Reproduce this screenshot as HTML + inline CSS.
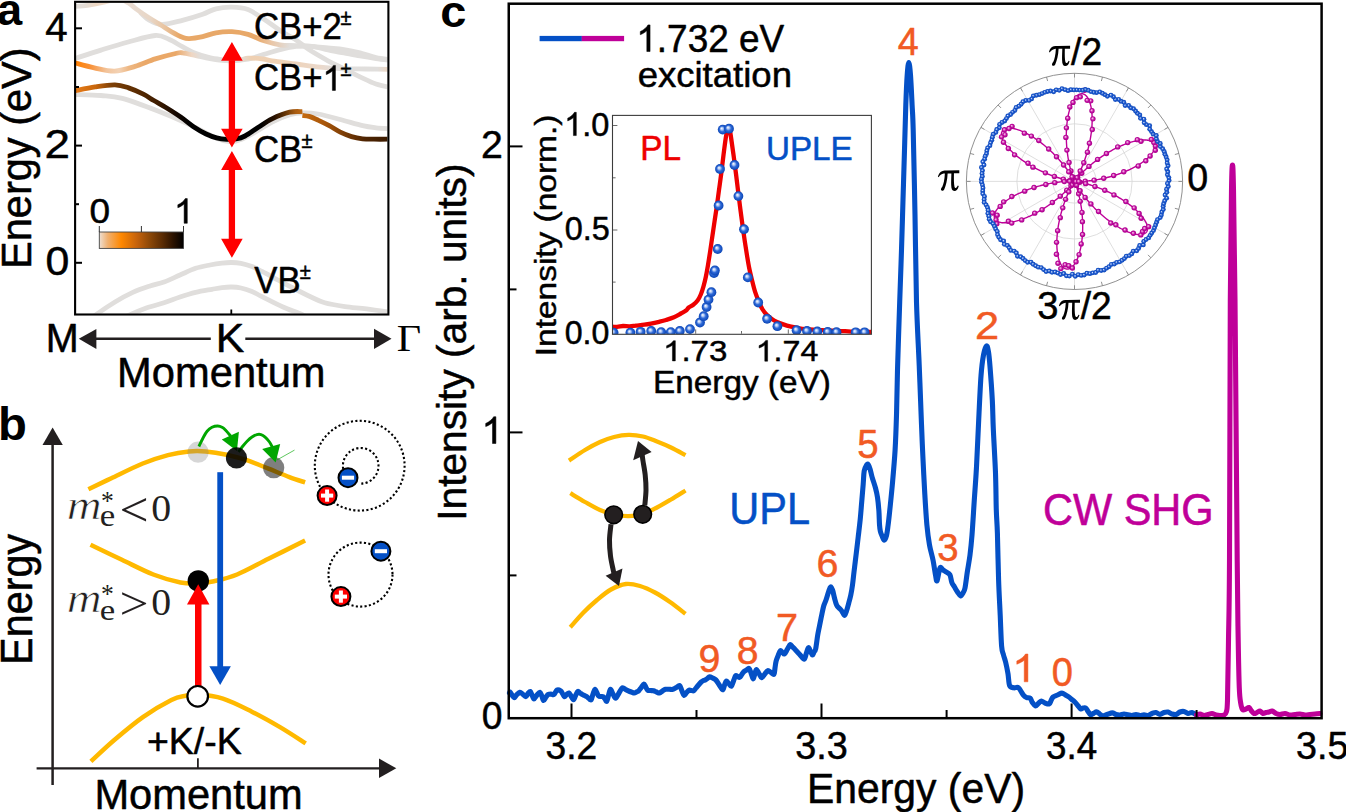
<!DOCTYPE html>
<html><head><meta charset="utf-8"><title>figure</title><style>html,body{margin:0;padding:0;background:#fff;overflow:hidden;}svg{display:block;}text{font-kerning:none;}</style></head><body>
<svg width="1346" height="812" viewBox="0 0 1346 812">
<defs><clipPath id="clipA"><rect x="76" y="2.8" width="311.4" height="310.8"/></clipPath>
<linearGradient id="gA" gradientUnits="userSpaceOnUse" x1="74" y1="0" x2="112" y2="0"><stop offset="0" stop-color="#e2dfdc"/><stop offset="0.32" stop-color="#e4dcd4"/><stop offset="0.58" stop-color="#eed8c4"/><stop offset="1" stop-color="#eeddcf"/></linearGradient>
<linearGradient id="gB" gradientUnits="userSpaceOnUse" x1="120" y1="0" x2="290" y2="0"><stop offset="0" stop-color="#e9ded6"/><stop offset="0.18" stop-color="#e8d6c6"/><stop offset="0.27" stop-color="#e9c29c"/><stop offset="0.35" stop-color="#e8a868"/><stop offset="0.8" stop-color="#e8a868"/><stop offset="0.89" stop-color="#eac6a6"/><stop offset="1" stop-color="#e0dedc"/></linearGradient>
<linearGradient id="gE" gradientUnits="userSpaceOnUse" x1="75" y1="0" x2="390" y2="0"><stop offset="0" stop-color="#ff7f00"/><stop offset="0.05" stop-color="#f8923a"/><stop offset="0.1" stop-color="#f2c49c"/><stop offset="0.14" stop-color="#f3d2b4"/><stop offset="0.17" stop-color="#eeb884"/><stop offset="0.22" stop-color="#eaa868"/><stop offset="0.32" stop-color="#eaa868"/><stop offset="0.37" stop-color="#efd6c2"/><stop offset="0.4" stop-color="#e0dedc"/><stop offset="0.52" stop-color="#e0dedc"/><stop offset="0.56" stop-color="#efd0b2"/><stop offset="0.68" stop-color="#eed2b8"/><stop offset="0.78" stop-color="#ebd9cb"/><stop offset="0.83" stop-color="#e0dedc"/><stop offset="0.96" stop-color="#e0dedc"/><stop offset="1" stop-color="#efd6c0"/></linearGradient>
<linearGradient id="gF" gradientUnits="userSpaceOnUse" x1="75" y1="0" x2="302" y2="0"><stop offset="0" stop-color="#e87c18"/><stop offset="0.09" stop-color="#c8660c"/><stop offset="0.16" stop-color="#7e4006"/><stop offset="0.26" stop-color="#5e2e02"/><stop offset="0.37" stop-color="#3c1b00"/><stop offset="0.45" stop-color="#120600"/><stop offset="0.51" stop-color="#000"/><stop offset="0.82" stop-color="#000"/><stop offset="0.88" stop-color="#2a1200"/><stop offset="0.93" stop-color="#6a3806"/><stop offset="0.97" stop-color="#a85c12"/><stop offset="1" stop-color="#bc6814"/></linearGradient>
<linearGradient id="gF2" gradientUnits="userSpaceOnUse" x1="303" y1="0" x2="390" y2="0"><stop offset="0" stop-color="#c46a10"/><stop offset="0.25" stop-color="#a8560a"/><stop offset="0.48" stop-color="#7a3c06"/><stop offset="0.71" stop-color="#4e2402"/><stop offset="1" stop-color="#3a1a00"/></linearGradient>
<linearGradient id="gCB" x1="0" y1="0" x2="1" y2="0"><stop offset="0" stop-color="#eedfd2"/><stop offset="0.1" stop-color="#f0b070"/><stop offset="0.26" stop-color="#ff8800"/><stop offset="0.45" stop-color="#c4620c"/><stop offset="0.6" stop-color="#8c4808"/><stop offset="0.75" stop-color="#5a2c04"/><stop offset="0.88" stop-color="#2a1200"/><stop offset="1" stop-color="#000"/></linearGradient>
<radialGradient id="sphB" cx="0.5" cy="0.5" r="0.5" fx="0.38" fy="0.36"><stop offset="0" stop-color="#ffffff"/><stop offset="0.28" stop-color="#a9c3f2"/><stop offset="0.55" stop-color="#2f6ad8"/><stop offset="1" stop-color="#0a44b4"/></radialGradient>
<radialGradient id="sphB2" cx="0.5" cy="0.5" r="0.5" fx="0.42" fy="0.4"><stop offset="0" stop-color="#eef4ff"/><stop offset="0.22" stop-color="#8eaeea"/><stop offset="0.48" stop-color="#2660d4"/><stop offset="1" stop-color="#0743b6"/></radialGradient>
<radialGradient id="sphM" cx="0.5" cy="0.5" r="0.5" fx="0.4" fy="0.38"><stop offset="0" stop-color="#ffd8f4"/><stop offset="0.3" stop-color="#e070c8"/><stop offset="0.6" stop-color="#c00ca0"/><stop offset="1" stop-color="#a8008a"/></radialGradient>
<clipPath id="clipI"><rect x="612.5" y="115.4" width="258.9" height="218.9"/></clipPath></defs>
<rect width="1346" height="812" fill="#fff"/>
<g clip-path="url(#clipA)" fill="none" stroke-width="4.8" stroke-linecap="butt" stroke-linejoin="round">
<path d="M140,12 C141.42,13.27 144.83,17.53 148.5,19.6 C152.17,21.67 156.35,24.28 162,24.4 C167.65,24.52 175.62,22 182.4,20.3 C189.18,18.6 197.1,16.12 202.7,14.2 C208.3,12.28 211.12,9.97 216,8.8 C220.88,7.63 226.67,7.07 232,7.2 C237.33,7.33 242.67,7.6 248,9.6 C253.33,11.6 258.67,15.73 264,19.2 C269.33,22.67 274.67,26.93 280,30.4 C285.33,33.87 291.18,36.8 296,40 C300.82,43.2 303.57,46.13 308.9,49.6 C314.23,53.07 322.15,57.6 328,60.8 C333.85,64 338.67,66.13 344,68.8 C349.33,71.47 354.67,74.27 360,76.8 C365.33,79.33 370.67,82.17 376,84 C381.33,85.83 389.33,87.17 392,87.8" stroke="#e0dedc"/>
<path d="M74,58.8 C78.5,57.35 91.97,52.9 101,50.1 C110.03,47.3 119.15,44.43 128.2,42 C137.25,39.57 148.52,35.95 155.3,35.5 C162.08,35.05 164.38,37.43 168.9,39.3 C173.42,41.17 177.88,44.33 182.4,46.7 C186.92,49.07 191.48,51.68 196,53.5 C200.52,55.32 205,56.55 209.5,57.6 C214,58.65 219.25,59.27 223,59.8 C226.75,60.33 227.83,60.9 232,60.8 C236.17,60.7 242.67,60.27 248,59.2 C253.33,58.13 258.67,56 264,54.4 C269.33,52.8 274.67,50.93 280,49.6 C285.33,48.27 290.67,46.93 296,46.4 C301.33,45.87 306.67,45.8 312,46.4 C317.33,47 322.67,48.9 328,50 C333.33,51.1 338.67,52 344,53 C349.33,54 354.67,55.08 360,56 C365.33,56.92 370.67,57.75 376,58.5 C381.33,59.25 389.33,60.17 392,60.5" stroke="#e0dedc"/>
<path d="M74,94.5 C78.5,94.67 92.95,94.85 101,95.5 C109.05,96.15 112.82,95.82 122.3,98.4 C131.78,100.98 147.07,106.82 157.9,111 C168.73,115.18 177.52,118.97 187.3,123.5 C197.08,128.03 209.32,135.15 216.6,138.2 C223.88,141.25 226.93,141.58 231,141.8 C235.07,142.02 236.5,141.38 241,139.5 C245.5,137.62 252.83,133.42 258,130.5 C263.17,127.58 266.67,124.62 272,122 C277.33,119.38 284.93,116.32 290,114.8 C295.07,113.28 297.73,113.03 302.4,112.9 C307.07,112.77 311.68,112.9 318,114 C324.32,115.1 332.87,117.55 340.3,119.5 C347.73,121.45 356.65,124.32 362.6,125.7 C368.55,127.08 371.1,127.28 376,127.8 C380.9,128.32 389.33,128.63 392,128.8" stroke="#e0dedc"/>
<path d="M72,333 C75.83,330.07 87.83,320.57 95,315.4 C102.17,310.23 108.7,305.83 115,302 C121.3,298.17 126.97,295.07 132.8,292.4 C138.63,289.73 144.8,287.73 150,286 C155.2,284.27 159,283.83 164,282 C169,280.17 174.73,277.28 180,275 C185.27,272.72 190.6,269.97 195.6,268.3 C200.6,266.63 205.6,265.87 210,265 C214.4,264.13 218.42,263.52 222,263.1 C225.58,262.68 228.33,262.45 231.5,262.5 C234.67,262.55 237.58,262.72 241,263.4 C244.42,264.08 248.5,265.27 252,266.6 C255.5,267.93 257.67,269.17 262,271.4 C266.33,273.63 272.83,277.23 278,280 C283.17,282.77 287.67,285.25 293,288 C298.33,290.75 304.72,294.03 310,296.5 C315.28,298.97 318.87,301.12 324.7,302.8 C330.53,304.48 338.02,305.58 345,306.6 C351.98,307.62 358.77,307.9 366.6,308.9 C374.43,309.9 387.77,311.98 392,312.6" stroke="#e0dedc"/>
<path d="M112,324 C114.77,322.57 123.1,317.98 128.6,315.4 C134.1,312.82 139.1,310.6 145,308.5 C150.9,306.4 158.17,304.72 164,302.8 C169.83,300.88 174.73,298.73 180,297 C185.27,295.27 190.27,293.68 195.6,292.4 C200.93,291.12 207.6,290.1 212,289.3 C216.4,288.5 218.75,287.98 222,287.6 C225.25,287.22 228.33,286.93 231.5,287 C234.67,287.07 237.58,287.25 241,288 C244.42,288.75 248.5,290.07 252,291.5 C255.5,292.93 256.83,294.02 262,296.6 C267.17,299.18 276.05,303.87 283,307 C289.95,310.13 297.87,312.57 303.7,315.4 C309.53,318.23 315.62,322.57 318,324" stroke="#e0dedc"/>
<path d="M73,6.5 C75.42,6.32 82.17,6.15 87.5,5.4 C92.83,4.65 100.42,3.07 105,2 C109.58,0.93 113.33,-0.5 115,-1" stroke="url(#gA)"/>
<path d="M121,-1 C122.5,-0.17 127.67,2.48 130,4 C132.33,5.52 131.92,5.83 135,8.1 C138.08,10.37 144.22,14.78 148.5,17.6 C152.78,20.42 156.85,22.63 160.7,25 C164.55,27.37 167.98,29.75 171.6,31.8 C175.22,33.85 179.47,36.17 182.4,37.3 C185.33,38.43 185.82,38.72 189.2,38.6 C192.58,38.48 198.23,37.57 202.7,36.6 C207.17,35.63 211.12,33.62 216,32.8 C220.88,31.98 226.67,31.43 232,31.7 C237.33,31.97 242.67,32.88 248,34.4 C253.33,35.92 258.67,39.07 264,40.8 C269.33,42.53 274.67,44 280,44.8 C285.33,45.6 290.67,45.33 296,45.6 C301.33,45.87 306.67,46 312,46.4 C317.33,46.8 322.67,47.47 328,48 C333.33,48.53 338.67,48.8 344,49.6 C349.33,50.4 354.67,51.47 360,52.8 C365.33,54.13 370.67,56.4 376,57.6 C381.33,58.8 389.33,59.6 392,60" stroke="url(#gB)"/>
<path d="M74,62.6 C77.38,63.47 87.52,66.38 94.3,67.8 C101.08,69.22 107.92,71.33 114.7,71.1 C121.48,70.87 128.23,68.43 135,66.4 C141.77,64.37 148.53,61.05 155.3,58.9 C162.07,56.75 171.08,54.52 175.6,53.5 C180.12,52.48 179,52.45 182.4,52.8 C185.8,53.15 191.4,54.63 196,55.6 C200.6,56.57 205.17,57.77 210,58.6 C214.83,59.43 220,60.4 225,60.6 C230,60.8 236.17,60.2 240,59.8 C243.83,59.4 244.33,58.37 248,58.2 C251.67,58.03 258,58.37 262,58.8 C266,59.23 266.33,59.93 272,60.8 C277.67,61.67 288,62.93 296,64 C304,65.07 312,66.4 320,67.2 C328,68 336.33,68.5 344,68.8 C351.67,69.1 358,68.88 366,69 C374,69.12 387.67,69.42 392,69.5" stroke="url(#gE)"/>
<path d="M74,91 C77.52,90.32 88.27,87.93 95.1,86.9 C101.93,85.87 109.42,84.63 115,84.8 C120.58,84.97 123.88,86.33 128.6,87.9 C133.32,89.47 139.1,92.1 143.3,94.2 C147.5,96.3 149.97,98.23 153.8,100.5 C157.63,102.77 161.77,105 166.3,107.8 C170.83,110.6 176.47,114.15 181,117.3 C185.53,120.45 189.32,123.92 193.5,126.7 C197.68,129.48 202.25,132.15 206.1,134 C209.95,135.85 213.12,136.92 216.6,137.8 C220.08,138.68 223.77,139.1 227,139.3 C230.23,139.5 233,139.55 236,139 C239,138.45 241.33,137.92 245,136 C248.67,134.08 253.5,130.37 258,127.5 C262.5,124.63 266.73,121.35 272,118.8 C277.27,116.25 284.53,113.4 289.6,112.2 C294.67,111 300.27,111.7 302.4,111.6" stroke="url(#gF)"/>
<path d="M302.4,115.4 C303.52,115.57 306.5,115.62 309.1,116.4 C311.7,117.18 314.65,118.55 318,120.1 C321.35,121.65 325.48,123.68 329.2,125.7 C332.92,127.72 336.58,130.38 340.3,132.2 C344.02,134.02 347.78,135.5 351.5,136.6 C355.22,137.7 358.85,138.37 362.6,138.8 C366.35,139.23 369.1,139.13 374,139.2 C378.9,139.27 389,139.2 392,139.2" stroke="url(#gF2)"/>
</g>
<rect x="75.1" y="1.8" width="313.3" height="312.7" fill="none" stroke="#000" stroke-width="2.1"/>
<line x1="76" y1="28.3" x2="82" y2="28.3" stroke="#000" stroke-width="2"/>
<line x1="76" y1="87" x2="79" y2="87" stroke="#000" stroke-width="2"/>
<line x1="76" y1="145.6" x2="82" y2="145.6" stroke="#000" stroke-width="2"/>
<line x1="76" y1="204.2" x2="79" y2="204.2" stroke="#000" stroke-width="2"/>
<line x1="76" y1="262.8" x2="82" y2="262.8" stroke="#000" stroke-width="2"/>
<line x1="231.3" y1="309.5" x2="231.3" y2="314" stroke="#000" stroke-width="1.8"/>
<path d="M231.9,41.9 L221.1,60.7 L242.7,60.7 Z M231.9,147.6 L221.1,128.8 L242.7,128.8 Z" fill="#ff0000"/><rect x="228.75" y="60.2" width="6.3" height="69.1" fill="#ff0000"/>
<path d="M231.9,151 L221.1,170 L242.7,170 Z M231.9,257.8 L221.1,238.8 L242.7,238.8 Z" fill="#ff0000"/><rect x="228.75" y="169.5" width="6.3" height="69.8" fill="#ff0000"/>
<rect x="99.3" y="232" width="84.2" height="16.4" fill="url(#gCB)" stroke="#444" stroke-width="0.9"/>
<line x1="99.3" y1="226" x2="99.3" y2="232" stroke="#333" stroke-width="1"/>
<line x1="141.4" y1="226" x2="141.4" y2="232" stroke="#333" stroke-width="1"/>
<line x1="183.5" y1="226" x2="183.5" y2="232" stroke="#333" stroke-width="1"/>
<g transform="translate(89.55,222.96) scale(1,0.9422)"><text x="0" y="0" font-family='"Liberation Sans", sans-serif' font-size="37.03" fill="#000" stroke="#000" stroke-width="0.5" stroke-linejoin="round">0</text></g>
<g transform="translate(173.92,223.3) scale(1,1.0000)"><path transform="translate(0,0) scale(0.01753,-0.01753)" d="M763,0 L583,0 L583,1097 C540,1058 483,1019 412,979 C341,939 278,909 222,890 L222,1056 C323,1101 410,1156 486,1221 C561,1285 615,1348 646,1409 L763,1409 Z" fill="#000" stroke="#000" stroke-width="28.52" stroke-linejoin="round"/></g>
<g transform="translate(-3.09,24.76) scale(1,1.0000)"><text x="0" y="0" font-family='"Liberation Sans", sans-serif' font-size="45.27" font-weight="bold" fill="#000">a</text></g>
<g transform="translate(45.28,40.6) scale(1,1.0319)"><text x="0" y="0" font-family='"Liberation Sans", sans-serif' font-size="40.29" fill="#000" stroke="#000" stroke-width="0.5" stroke-linejoin="round">4</text></g>
<g transform="translate(44.49,157.7) scale(1,0.8835)"><text x="0" y="0" font-family='"Liberation Sans", sans-serif' font-size="45.88" fill="#000" stroke="#000" stroke-width="0.5" stroke-linejoin="round">2</text></g>
<g transform="translate(45.52,274.59) scale(1,0.9683)"><text x="0" y="0" font-family='"Liberation Sans", sans-serif' font-size="42.88" fill="#000" stroke="#000" stroke-width="0.5" stroke-linejoin="round">0</text></g>
<g transform="translate(31.44,269.01) rotate(-90) scale(1,1.0044)"><text x="0" y="0" font-family='"Liberation Sans", sans-serif' font-size="41.55" fill="#000" stroke="#000" stroke-width="0.5" stroke-linejoin="round">Energy (eV)</text></g>
<g transform="translate(254.04,38.5) scale(1,1.0514)"><text x="0" y="0" font-family='"Liberation Sans", sans-serif' font-size="34.7" fill="#000" stroke="#000" stroke-width="0.5" stroke-linejoin="round">CB+2</text></g>
<g transform="translate(340.57,24.7) scale(1,1.0771)"><text x="0" y="0" font-family='"Liberation Sans", sans-serif' font-size="19.97" fill="#000" stroke="#000" stroke-width="0.5" stroke-linejoin="round">±</text></g>
<g transform="translate(254.04,90.4) scale(1,1.0472)"><text x="0" y="0" font-family='"Liberation Sans", sans-serif' font-size="34.7" fill="#000" stroke="#000" stroke-width="0.5" stroke-linejoin="round">CB+</text><path transform="translate(68.47,0) scale(0.01694,-0.01694)" d="M763,0 L583,0 L583,1097 C540,1058 483,1019 412,979 C341,939 278,909 222,890 L222,1056 C323,1101 410,1156 486,1221 C561,1285 615,1348 646,1409 L763,1409 Z" fill="#000" stroke="#000" stroke-width="29.51" stroke-linejoin="round"/></g>
<g transform="translate(340.57,76) scale(1,1.0266)"><text x="0" y="0" font-family='"Liberation Sans", sans-serif' font-size="19.97" fill="#000" stroke="#000" stroke-width="0.5" stroke-linejoin="round">±</text></g>
<g transform="translate(253.94,162.2) scale(1,1.0556)"><text x="0" y="0" font-family='"Liberation Sans", sans-serif' font-size="34.7" fill="#000" stroke="#000" stroke-width="0.5" stroke-linejoin="round">CB</text></g>
<g transform="translate(301.56,147.9) scale(1,1.0578)"><text x="0" y="0" font-family='"Liberation Sans", sans-serif' font-size="20.17" fill="#000" stroke="#000" stroke-width="0.5" stroke-linejoin="round">±</text></g>
<g transform="translate(254.35,292.8) scale(1,1.0556)"><text x="0" y="0" font-family='"Liberation Sans", sans-serif' font-size="34.7" fill="#000" stroke="#000" stroke-width="0.5" stroke-linejoin="round">VB</text></g>
<g transform="translate(299.76,278.7) scale(1,1.0578)"><text x="0" y="0" font-family='"Liberation Sans", sans-serif' font-size="20.17" fill="#000" stroke="#000" stroke-width="0.5" stroke-linejoin="round">±</text></g>
<g transform="translate(45.75,352) scale(1,1.0090)"><text x="0" y="0" font-family='"Liberation Sans", sans-serif' font-size="39.61" fill="#000" stroke="#000" stroke-width="0.5" stroke-linejoin="round">M</text></g>
<g transform="translate(215.7,352.4) scale(1,0.9531)"><text x="0" y="0" font-family='"Liberation Sans", sans-serif' font-size="42.7" fill="#000" stroke="#000" stroke-width="0.5" stroke-linejoin="round">K</text></g>
<g transform="translate(396.69,350.5) scale(1,0.9165)"><text x="0" y="0" font-family='"Liberation Serif", serif' font-size="42.16" fill="#000">Γ</text></g>
<g transform="translate(117.08,386.98) scale(1,1.0345)"><text x="0" y="0" font-family='"Liberation Sans", sans-serif' font-size="41.7" fill="#000" stroke="#000" stroke-width="0.5" stroke-linejoin="round">Momentum</text></g>
<line x1="95" y1="338.7" x2="210.8" y2="338.7" stroke="#231f20" stroke-width="2.5"/>
<path d="M78.8,338.8 L96.4,329 L96.4,348.9 Z" fill="#231f20"/>
<line x1="245.3" y1="338.7" x2="375" y2="338.7" stroke="#231f20" stroke-width="2.5"/>
<path d="M391.5,338.8 L374,328.8 L374,348.9 Z" fill="#231f20"/>
<g transform="translate(-2.01,439.55) scale(1,0.9745)"><text x="0" y="0" font-family='"Liberation Sans", sans-serif' font-size="47.23" font-weight="bold" fill="#000">b</text></g>
<line x1="52.6" y1="443" x2="52.6" y2="785" stroke="#231f20" stroke-width="2.5"/>
<path d="M52.6,427.4 L42.5,444.9 L62.8,444.9 Z" fill="#231f20"/>
<line x1="36.6" y1="768.3" x2="381" y2="768.3" stroke="#231f20" stroke-width="2.3"/>
<path d="M396.3,768.3 L379,758.6 L379,777.9 Z" fill="#231f20"/>
<line x1="197.9" y1="758.3" x2="197.9" y2="768" stroke="#231f20" stroke-width="1.8"/>
<g transform="translate(32.36,664.9) rotate(-90) scale(1,1.0519)"><text x="0" y="0" font-family='"Liberation Sans", sans-serif' font-size="41.4" fill="#000" stroke="#000" stroke-width="0.5" stroke-linejoin="round">Energy</text></g>
<g transform="translate(94.38,808.59) scale(1,1.0114)"><text x="0" y="0" font-family='"Liberation Sans", sans-serif' font-size="41.66" fill="#000" stroke="#000" stroke-width="0.5" stroke-linejoin="round">Momentum</text></g>
<g transform="translate(146.97,754.24) scale(1,0.9932)"><text x="0" y="0" font-family='"Liberation Sans", sans-serif' font-size="37.43" fill="#000" stroke="#000" stroke-width="0.5" stroke-linejoin="round">+K/-K</text></g>
<g transform="translate(66.75,519) scale(1,0.8411)"><text x="0" y="0" font-family='"Liberation Serif", serif' font-size="48.44" font-style="italic" fill="#231f20" stroke="#fff" stroke-width="0.8" stroke-linejoin="round">m</text></g>
<g transform="translate(99.84,526.2) scale(1,0.8769)"><text x="0" y="0" font-family='"Liberation Serif", serif' font-size="34.85" fill="#231f20">e</text></g>
<g transform="translate(101.05,509.69) scale(1,1.0999)"><text x="0" y="0" font-family='"Liberation Serif", serif' font-size="25.54" fill="#231f20">*</text></g>
<g transform="translate(119.43,525.95) scale(1,0.9284)"><text x="0" y="0" font-family='"Liberation Serif", serif' font-size="51.58" fill="#231f20">&lt;</text></g>
<g transform="translate(151.18,521.22) scale(1,0.9774)"><text x="0" y="0" font-family='"Liberation Serif", serif' font-size="39.87" fill="#231f20">0</text></g>
<g transform="translate(66.75,612.2) scale(1,0.8411)"><text x="0" y="0" font-family='"Liberation Serif", serif' font-size="48.44" font-style="italic" fill="#231f20" stroke="#fff" stroke-width="0.8" stroke-linejoin="round">m</text></g>
<g transform="translate(99.84,619.6) scale(1,0.8710)"><text x="0" y="0" font-family='"Liberation Serif", serif' font-size="34.85" fill="#231f20">e</text></g>
<g transform="translate(101.05,603.21) scale(1,1.0892)"><text x="0" y="0" font-family='"Liberation Serif", serif' font-size="25.54" fill="#231f20">*</text></g>
<g transform="translate(119.38,619.19) scale(1,0.9163)"><text x="0" y="0" font-family='"Liberation Serif", serif' font-size="51.58" fill="#231f20">&gt;</text></g>
<g transform="translate(151.18,614.53) scale(1,0.9626)"><text x="0" y="0" font-family='"Liberation Serif", serif' font-size="39.87" fill="#231f20">0</text></g>
<g fill="none" stroke="#ffb900" stroke-width="4.5">
<path d="M88.4,489.3 C92.23,487.45 102.33,482.5 111.4,478.2 C120.47,473.9 133.37,467.35 142.8,463.5 C152.23,459.65 160.32,457.12 168,455.1 C175.68,453.08 182.62,452.02 188.9,451.4 C195.18,450.78 199.42,450.85 205.7,451.4 C211.98,451.95 219.63,453.2 226.6,454.7 C233.57,456.2 240.52,458.07 247.5,460.4 C254.48,462.73 261.52,465.92 268.5,468.7 C275.48,471.48 283.3,474.82 289.4,477.1 C295.5,479.38 302.48,481.52 305.1,482.4"/>
<path d="M90.5,544.8 C95.73,547.3 111.43,554.85 121.9,559.8 C132.37,564.75 143.53,570.72 153.3,574.5 C163.07,578.28 173.17,581 180.5,582.5 C187.83,584 191.72,583.72 197.3,583.5 C202.88,583.28 207.37,582.7 214,581.2 C220.63,579.7 228.02,578.23 237.1,574.5 C246.18,570.77 257.17,564.45 268.5,558.8 C279.83,553.15 299,543.63 305.1,540.6"/>
<path d="M90.9,761.4 C94.8,757.83 105.63,747.38 114.3,740 C122.97,732.62 133.38,723.77 142.9,717.1 C152.42,710.43 164.27,703.57 171.4,700 C178.53,696.43 181.32,696.65 185.7,695.7 C190.08,694.75 191.5,693.82 197.7,694.3 C203.9,694.78 213.95,695.75 222.9,698.6 C231.85,701.45 241.88,706.65 251.4,711.4 C260.92,716.15 270.95,721.77 280,727.1 C289.05,732.43 301.42,740.68 305.7,743.4"/>
</g>
<circle cx="198.1" cy="452.2" r="10.6" fill="#808080" fill-opacity="0.32"/>
<circle cx="273.7" cy="467.7" r="10.6" fill="#000" fill-opacity="0.5"/>
<g fill="none" stroke="#00a600" stroke-width="2.9" stroke-linecap="butt">
<path d="M198.9,446.5 C199.58,445.08 201.63,440.53 203,438 C204.37,435.47 205.6,433.08 207.1,431.3 C208.6,429.52 210.23,428.18 212,427.3 C213.77,426.42 215.95,425.97 217.7,426 C219.45,426.03 221.13,426.75 222.5,427.5 C223.87,428.25 224.52,429.05 225.9,430.5 C227.28,431.95 229.98,435.25 230.8,436.2"/>
<path d="M238.5,451.8 C239.17,450.92 241.07,448.27 242.5,446.5 C243.93,444.73 245.52,442.78 247.1,441.2 C248.68,439.62 250.37,438.1 252,437 C253.63,435.9 255.4,435 256.9,434.6 C258.4,434.2 259.63,434.18 261,434.6 C262.37,435.02 263.68,435.87 265.1,437.1 C266.52,438.33 268.27,440.27 269.5,442 C270.73,443.73 272,446.58 272.5,447.5"/>
</g>
<path d="M221.8,439.5 L238.9,431.8 L236.9,451 Z" fill="#00a600"/>
<path d="M262.2,448.9 L280.2,444 L275.7,462.4 Z" fill="#00a600"/>
<path d="M276.9,460 L294.5,450.1" stroke="#00a600" stroke-width="0.9" stroke-opacity="0.7"/>
<circle cx="236.5" cy="457.9" r="10.6" fill="#000" fill-opacity="0.89"/>
<circle cx="198.3" cy="580.9" r="10.7" fill="#000"/>
<rect x="195" y="602" width="6.5" height="84" fill="#ff0000"/>
<path d="M198.2,584.3 L187,604.5 L209.4,604.5 Z" fill="#ff0000"/>
<rect x="217.3" y="472.2" width="5.8" height="195" fill="#0450c6"/>
<path d="M220.15,685.1 L209.4,666.3 L230.9,666.3 Z" fill="#0450c6"/>
<circle cx="197.7" cy="696.3" r="10.3" fill="#fff" stroke="#000" stroke-width="2.2"/>
<circle cx="359.7" cy="465.7" r="44.9" fill="none" stroke="#000" stroke-width="2.1" stroke-dasharray="2.1 2.3"/>
<path d="M361.32,483.59 A17.8,17.8 0 1 0 349.26,479.44" fill="none" stroke="#000" stroke-width="2.1" stroke-dasharray="2.1 2.3"/>
<circle cx="348" cy="477.7" r="9.5" fill="#0450c6" stroke="#000" stroke-width="2"/><rect x="341.9" y="475.7" width="12.2" height="4" fill="#fff"/>
<circle cx="327.1" cy="495.6" r="9.5" fill="#ff0000" stroke="#000" stroke-width="2"/><rect x="321" y="493.6" width="12.2" height="4" fill="#fff"/><rect x="325.1" y="489.5" width="4" height="12.2" fill="#fff"/>
<circle cx="360.5" cy="574.6" r="32" fill="none" stroke="#000" stroke-width="2.1" stroke-dasharray="2.1 2.3"/>
<circle cx="380.9" cy="551.2" r="9.5" fill="#0450c6" stroke="#000" stroke-width="2"/><rect x="374.8" y="549.2" width="12.2" height="4" fill="#fff"/>
<circle cx="340.9" cy="596.6" r="9.5" fill="#ff0000" stroke="#000" stroke-width="2"/><rect x="334.8" y="594.6" width="12.2" height="4" fill="#fff"/><rect x="338.9" y="590.5" width="4" height="12.2" fill="#fff"/>
<g transform="translate(440.27,27.36) scale(1,0.9642)"><text x="0" y="0" font-family='"Liberation Sans", sans-serif' font-size="46.95" font-weight="bold" fill="#000">c</text></g>
<path d="M509.5,693 C509.62,692.88 509.47,691.55 510.2,692.3 C510.93,693.05 512.85,697.05 513.9,697.5 C514.95,697.95 515.5,695.87 516.5,695 C517.5,694.13 518.9,692.47 519.9,692.3 C520.9,692.13 521.52,693.27 522.5,694 C523.48,694.73 524.88,696.78 525.8,696.7 C526.72,696.62 527.25,694.37 528,693.5 C528.75,692.63 529.63,691.25 530.3,691.5 C530.97,691.75 531.38,693.75 532,695 C532.62,696.25 533.17,699 534,699 C534.83,699 536.02,696.12 537,695 C537.98,693.88 539.1,692.13 539.9,692.3 C540.7,692.47 541.18,694.63 541.8,696 C542.42,697.37 542.9,700.33 543.6,700.5 C544.3,700.67 545.25,698 546,697 C546.75,696 547.27,695 548.1,694.5 C548.93,694 550.02,694 551,694 C551.98,694 553,695.17 554,694.5 C555,693.83 555.88,690.62 557,690 C558.12,689.38 559.78,690.22 560.7,690.8 C561.62,691.38 561.88,692.52 562.5,693.5 C563.12,694.48 563.7,696.53 564.4,696.7 C565.1,696.87 565.95,695.12 566.7,694.5 C567.45,693.88 568.18,692.75 568.9,693 C569.62,693.25 570.25,694.88 571,696 C571.75,697.12 572.63,699.78 573.4,699.7 C574.17,699.62 574.87,696.87 575.6,695.5 C576.33,694.13 577.07,691.92 577.8,691.5 C578.53,691.08 579.25,692.5 580,693 C580.75,693.5 581.55,694.08 582.3,694.5 C583.05,694.92 583.77,695.13 584.5,695.5 C585.23,695.87 585.95,696.2 586.7,696.7 C587.45,697.2 588.25,698 589,698.5 C589.75,699 590.53,700.45 591.2,699.7 C591.87,698.95 592.38,695.73 593,694 C593.62,692.27 594.27,689.55 594.9,689.3 C595.53,689.05 596.18,691.38 596.8,692.5 C597.42,693.62 597.9,695.33 598.6,696 C599.3,696.67 600.25,696.38 601,696.5 C601.75,696.62 602.43,696.28 603.1,696.7 C603.77,697.12 604.38,698.25 605,699 C605.62,699.75 606.2,701.87 606.8,701.2 C607.4,700.53 607.98,696.98 608.6,695 C609.22,693.02 609.77,689.47 610.5,689.3 C611.23,689.13 612.13,692.52 613,694 C613.87,695.48 614.7,698.37 615.7,698.2 C616.7,698.03 617.88,694.73 619,693 C620.12,691.27 621.32,688.38 622.4,687.8 C623.48,687.22 624.52,689 625.5,689.5 C626.48,690 627.33,690.38 628.3,690.8 C629.27,691.22 630.3,691.63 631.3,692 C632.3,692.37 633.43,693 634.3,693 C635.17,693 635.77,692.37 636.5,692 C637.23,691.63 637.9,691.55 638.7,690.8 C639.5,690.05 640.43,688.62 641.3,687.5 C642.17,686.38 643.15,684.18 643.9,684.1 C644.65,684.02 645.18,686 645.8,687 C646.42,688 646.8,689.52 647.6,690.1 C648.4,690.68 649.6,690.38 650.6,690.5 C651.6,690.62 652.62,690.55 653.6,690.8 C654.58,691.05 655.52,691.63 656.5,692 C657.48,692.37 658.5,693.17 659.5,693 C660.5,692.83 661.5,691.62 662.5,691 C663.5,690.38 664.38,689.58 665.5,689.3 C666.62,689.02 667.97,689.3 669.2,689.3 C670.43,689.3 671.72,689.6 672.9,689.3 C674.08,689 675.18,688.12 676.3,687.5 C677.42,686.88 678.68,685.1 679.6,685.6 C680.52,686.1 681.07,688.88 681.8,690.5 C682.53,692.12 683.2,694.97 684,695.3 C684.8,695.63 685.73,693.37 686.6,692.5 C687.47,691.63 688.38,690.43 689.2,690.1 C690.02,689.77 690.75,690.38 691.5,690.5 C692.25,690.62 692.95,691.22 693.7,690.8 C694.45,690.38 695.2,688.97 696,688 C696.8,687.03 697.63,686 698.5,685 C699.37,684 700.37,682.75 701.2,682 C702.03,681.25 702.8,680.85 703.5,680.5 C704.2,680.15 704.73,680.23 705.4,679.9 C706.07,679.57 706.8,679.02 707.5,678.5 C708.2,677.98 708.73,676.88 709.6,676.8 C710.47,676.72 711.67,677.48 712.7,678 C713.73,678.52 714.75,678.82 715.8,679.9 C716.85,680.98 717.87,682.85 719,684.5 C720.13,686.15 721.7,689.63 722.6,689.8 C723.5,689.97 723.8,686.97 724.4,685.5 C725,684.03 725.47,681.33 726.2,681 C726.93,680.67 727.93,682.63 728.8,683.5 C729.67,684.37 730.62,686.62 731.4,686.2 C732.18,685.78 732.8,682.73 733.5,681 C734.2,679.27 734.92,676.55 735.6,675.8 C736.28,675.05 736.92,676.25 737.6,676.5 C738.28,676.75 739,677.63 739.7,677.3 C740.4,676.97 741.1,675.45 741.8,674.5 C742.5,673.55 743.12,672.35 743.9,671.6 C744.68,670.85 745.63,670.52 746.5,670 C747.37,669.48 748.32,667.92 749.1,668.5 C749.88,669.08 750.52,671.77 751.2,673.5 C751.88,675.23 752.6,678.82 753.2,678.9 C753.8,678.98 754.27,675.57 754.8,674 C755.33,672.43 755.7,669.58 756.4,669.5 C757.1,669.42 758.13,672.12 759,673.5 C759.87,674.88 760.65,677.68 761.6,677.8 C762.55,677.92 763.67,675.4 764.7,674.2 C765.73,673 766.77,670.9 767.8,670.6 C768.83,670.3 769.87,671.8 770.9,672.4 C771.93,673 773.32,674.93 774,674.2 C774.68,673.47 774.65,670.17 775,668 C775.35,665.83 775.57,663.28 776.1,661.2 C776.63,659.12 777.5,657.23 778.2,655.5 C778.9,653.77 779.6,651.32 780.3,650.8 C781,650.28 781.7,651.88 782.4,652.4 C783.1,652.92 783.67,654.43 784.5,653.9 C785.33,653.37 786.45,650.75 787.4,649.2 C788.35,647.65 789.35,644.98 790.2,644.6 C791.05,644.22 791.72,646.13 792.5,646.9 C793.28,647.67 793.73,647.98 794.9,649.2 C796.07,650.42 797.95,652.55 799.5,654.2 C801.05,655.85 803.07,659.23 804.2,659.1 C805.33,658.97 805.6,655.3 806.3,653.4 C807,651.5 807.7,648.03 808.4,647.7 C809.1,647.37 809.82,650.18 810.5,651.4 C811.18,652.62 811.9,654.93 812.5,655 C813.1,655.07 813.57,652.85 814.1,651.8 C814.63,650.75 815.1,651.47 815.7,648.7 C816.3,645.93 817.07,638.98 817.7,635.2 C818.33,631.42 818.87,629.18 819.5,626 C820.13,622.82 820.8,619.43 821.5,616.1 C822.2,612.77 822.95,608.68 823.7,606 C824.45,603.32 825.2,602.33 826,600 C826.8,597.67 827.75,594.17 828.5,592 C829.25,589.83 829.83,587.33 830.5,587 C831.17,586.67 831.83,588.17 832.5,590 C833.17,591.83 833.82,595.5 834.5,598 C835.18,600.5 835.85,603.33 836.6,605 C837.35,606.67 838.27,607.17 839,608 C839.73,608.83 840.33,609.17 841,610 C841.67,610.83 842.38,612.1 843,613 C843.62,613.9 844.12,615.73 844.7,615.4 C845.28,615.07 845.87,612.9 846.5,611 C847.13,609.1 847.78,606.67 848.5,604 C849.22,601.33 850.13,598.17 850.8,595 C851.47,591.83 851.97,588.83 852.5,585 C853.03,581.17 853.37,577.33 854,572 C854.63,566.67 855.6,558.83 856.3,553 C857,547.17 857.55,542.57 858.2,537 C858.85,531.43 859.62,525.43 860.2,519.6 C860.78,513.77 861.2,507.92 861.7,502 C862.2,496.08 862.78,489.27 863.2,484.1 C863.62,478.93 863.65,474.15 864.2,471 C864.75,467.85 865.82,466.27 866.5,465.2 C867.18,464.13 867.68,463.88 868.3,464.6 C868.92,465.32 869.57,467.42 870.2,469.5 C870.83,471.58 871.22,474.02 872.1,477.1 C872.98,480.18 874.6,484.62 875.5,488 C876.4,491.38 876.93,493.57 877.5,497.4 C878.07,501.23 878.57,506.48 878.9,511 C879.23,515.52 879.25,521.08 879.5,524.5 C879.75,527.92 879.93,529.5 880.4,531.5 C880.87,533.5 881.65,535.07 882.3,536.5 C882.95,537.93 883.6,540.27 884.3,540.1 C885,539.93 885.88,537.85 886.5,535.5 C887.12,533.15 887.47,530.08 888,526 C888.53,521.92 888.97,518.02 889.7,511 C890.43,503.98 891.5,494.07 892.4,483.9 C893.3,473.73 894.42,461.48 895.1,450 C895.78,438.52 896.1,428.33 896.5,415 C896.9,401.67 896.97,388.83 897.5,370 C898.03,351.17 899.03,322 899.7,302 C900.37,282 900.95,267 901.5,250 C902.05,233 902.5,216.67 903,200 C903.5,183.33 904.03,165.83 904.5,150 C904.97,134.17 905.35,117.5 905.8,105 C906.25,92.5 906.7,82.08 907.2,75 C907.7,67.92 908.25,62.5 908.8,62.5 C909.35,62.5 909.95,67.92 910.5,75 C911.05,82.08 911.65,95.83 912.1,105 C912.55,114.17 912.72,111.67 913.2,130 C913.68,148.33 914.45,186.33 915,215 C915.55,243.67 915.8,277 916.5,302 C917.2,327 918.37,344.62 919.2,365 C920.03,385.38 920.9,409.3 921.5,424.3 C922.1,439.3 922.25,443.38 922.8,455 C923.35,466.62 924.12,482.33 924.8,494 C925.48,505.67 926.12,516.5 926.9,525 C927.68,533.5 928.48,539.17 929.5,545 C930.52,550.83 931.98,554.92 933,560 C934.02,565.08 934.92,572.05 935.6,575.5 C936.28,578.95 936.37,581.97 937.1,580.7 C937.83,579.43 939.02,569.68 940,567.9 C940.98,566.12 942,569.35 943,570 C944,570.65 944.85,571 946,571.8 C947.15,572.6 948.92,573 949.9,574.8 C950.88,576.6 951.13,580.57 951.9,582.6 C952.67,584.63 953.57,585.43 954.5,587 C955.43,588.57 956.48,590.5 957.5,592 C958.52,593.5 959.68,595.83 960.6,596 C961.52,596.17 962.27,594.33 963,593 C963.73,591.67 964.28,591.5 965,588 C965.72,584.5 966.47,577.5 967.3,572 C968.13,566.5 969.22,561.17 970,555 C970.78,548.83 971.28,544.17 972,535 C972.72,525.83 973.55,511.33 974.3,500 C975.05,488.67 975.77,480.33 976.5,467 C977.23,453.67 977.95,435.17 978.7,420 C979.45,404.83 980.2,386.83 981,376 C981.8,365.17 982.58,360 983.5,355 C984.42,350 985.67,346.5 986.5,346 C987.33,345.5 987.92,348.58 988.5,352 C989.08,355.42 989.37,358.5 990,366.5 C990.63,374.5 991.75,389.63 992.3,400 C992.85,410.37 992.77,416.53 993.3,428.7 C993.83,440.87 995,459.45 995.5,473 C996,486.55 995.98,500 996.3,510 C996.62,520 997.02,521.33 997.4,533 C997.78,544.67 998.13,566.33 998.6,580 C999.07,593.67 999.7,604 1000.2,615 C1000.7,626 1001.05,639.33 1001.6,646 C1002.15,652.67 1002.83,652.33 1003.5,655 C1004.17,657.67 1004.85,658.87 1005.6,662 C1006.35,665.13 1007.33,669.88 1008,673.8 C1008.67,677.72 1008.63,683.17 1009.6,685.5 C1010.57,687.83 1012.32,687.42 1013.8,687.8 C1015.28,688.18 1016.93,686.63 1018.5,687.8 C1020.07,688.97 1021.87,693.18 1023.2,694.8 C1024.53,696.42 1025.33,696.92 1026.5,697.5 C1027.67,698.08 1029.22,697.47 1030.2,698.3 C1031.18,699.13 1031.53,701.22 1032.4,702.5 C1033.27,703.78 1034.42,705.83 1035.4,706 C1036.38,706.17 1037.32,704.33 1038.3,703.5 C1039.28,702.67 1040.18,701.08 1041.3,701 C1042.42,700.92 1043.68,702.5 1045,703 C1046.32,703.5 1048.18,704.42 1049.2,704 C1050.22,703.58 1050.45,701.67 1051.1,700.5 C1051.75,699.33 1052.03,697.92 1053.1,697 C1054.17,696.08 1056.02,695.65 1057.5,695 C1058.98,694.35 1060.67,693.1 1062,693.1 C1063.33,693.1 1064.35,694.35 1065.5,695 C1066.65,695.65 1067.85,696.25 1068.9,697 C1069.95,697.75 1070.82,698.67 1071.8,699.5 C1072.78,700.33 1073.8,701 1074.8,702 C1075.8,703 1076.82,704.35 1077.8,705.5 C1078.78,706.65 1079.8,708.48 1080.7,708.9 C1081.6,709.32 1082.37,708.15 1083.2,708 C1084.03,707.85 1084.88,707.43 1085.7,708 C1086.52,708.57 1087.28,710.27 1088.1,711.4 C1088.92,712.53 1089.7,714.47 1090.6,714.8 C1091.5,715.13 1092.52,713.88 1093.5,713.4 C1094.48,712.92 1095.5,711.83 1096.5,711.9 C1097.5,711.97 1098.52,713.15 1099.5,713.8 C1100.48,714.45 1101.15,715.68 1102.4,715.8 C1103.65,715.92 1105.35,714.98 1107,714.5 C1108.65,714.02 1110.8,712.9 1112.3,712.9 C1113.8,712.9 1114.72,714.15 1116,714.5 C1117.28,714.85 1118.67,715.08 1120,715 C1121.33,714.92 1122.67,714.03 1124,714 C1125.33,713.97 1126.67,714.55 1128,714.8 C1129.33,715.05 1130.67,715.55 1132,715.5 C1133.33,715.45 1134.67,714.5 1136,714.5 C1137.33,714.5 1138.67,715.45 1140,715.5 C1141.33,715.55 1142.67,714.8 1144,714.8 C1145.33,714.8 1146.67,715.72 1148,715.5 C1149.33,715.28 1150.67,714 1152,713.5 C1153.33,713 1154.67,712.33 1156,712.5 C1157.33,712.67 1158.67,714.5 1160,714.5 C1161.33,714.5 1162.67,712.92 1164,712.5 C1165.33,712.08 1166.67,711.75 1168,712 C1169.33,712.25 1170.67,713.58 1172,714 C1173.33,714.42 1174.67,714.83 1176,714.5 C1177.33,714.17 1178.67,712.5 1180,712 C1181.33,711.5 1182.67,711.25 1184,711.5 C1185.33,711.75 1186.67,713.33 1188,713.5 C1189.33,713.67 1190.57,712.25 1192,712.5 C1193.43,712.75 1195.83,714.58 1196.6,715" fill="none" stroke="#0450c6" stroke-width="5.1" stroke-linejoin="round" stroke-linecap="round"/>
<path d="M1196.6,715 C1197.17,714.83 1198.77,713.92 1200,714 C1201.23,714.08 1202.67,715.42 1204,715.5 C1205.33,715.58 1206.67,714.83 1208,714.5 C1209.33,714.17 1210.67,713.42 1212,713.5 C1213.33,713.58 1214.67,714.67 1216,715 C1217.33,715.33 1218.67,715.5 1220,715.5 C1221.33,715.5 1222.95,715.58 1224,715 C1225.05,714.42 1225.72,714.5 1226.3,712 C1226.88,709.5 1227.13,712 1227.5,700 C1227.87,688 1228.17,663.33 1228.5,640 C1228.83,616.67 1229.2,616.67 1229.5,560 C1229.8,503.33 1229.97,361.67 1230.3,300 C1230.63,238.33 1231.13,212.5 1231.5,190 C1231.87,167.5 1232.17,165 1232.5,165 C1232.83,165 1233.08,167.5 1233.5,190 C1233.92,212.5 1234.38,238.33 1235,300 C1235.62,361.67 1236.67,503.33 1237.2,560 C1237.73,616.67 1237.85,618.67 1238.2,640 C1238.55,661.33 1238.88,677.5 1239.3,688 C1239.72,698.5 1240.15,699.42 1240.7,703 C1241.25,706.58 1241.72,708.5 1242.6,709.5 C1243.48,710.5 1244.95,709.33 1246,709 C1247.05,708.67 1247.98,707.17 1248.9,707.5 C1249.82,707.83 1250.65,710 1251.5,711 C1252.35,712 1253.08,713.25 1254,713.5 C1254.92,713.75 1256,712.92 1257,712.5 C1258,712.08 1259,710.83 1260,711 C1261,711.17 1262,713.25 1263,713.5 C1264,713.75 1265,712.75 1266,712.5 C1267,712.25 1267.97,712.25 1269,712 C1270.03,711.75 1271.03,710.75 1272.2,711 C1273.37,711.25 1274.7,712.92 1276,713.5 C1277.3,714.08 1278.5,714.5 1280,714.5 C1281.5,714.5 1283.33,713.42 1285,713.5 C1286.67,713.58 1288.33,714.83 1290,715 C1291.67,715.17 1293.33,714.67 1295,714.5 C1296.67,714.33 1298.33,713.92 1300,714 C1301.67,714.08 1303.33,714.92 1305,715 C1306.67,715.08 1308.33,714.67 1310,714.5 C1311.67,714.33 1313.33,714.17 1315,714 C1316.67,713.83 1319.17,713.58 1320,713.5" fill="none" stroke="#bf0099" stroke-width="5.1" stroke-linejoin="round" stroke-linecap="round"/>
<rect x="508.75" y="3.7" width="812.85" height="714.5" fill="none" stroke="#000" stroke-width="2.5"/>
<line x1="510" y1="432.4" x2="522.5" y2="432.4" stroke="#000" stroke-width="2"/>
<line x1="510" y1="146.4" x2="522.5" y2="146.4" stroke="#000" stroke-width="2"/>
<line x1="510" y1="575.4" x2="516.5" y2="575.4" stroke="#000" stroke-width="2"/>
<line x1="510" y1="289.4" x2="516.5" y2="289.4" stroke="#000" stroke-width="2"/>
<line x1="571.5" y1="717" x2="571.5" y2="703.5" stroke="#000" stroke-width="2"/>
<line x1="821.5" y1="717" x2="821.5" y2="703.5" stroke="#000" stroke-width="2"/>
<line x1="1071.6" y1="717" x2="1071.6" y2="703.5" stroke="#000" stroke-width="2"/>
<line x1="696.5" y1="717" x2="696.5" y2="710" stroke="#000" stroke-width="2"/>
<line x1="946.6" y1="717" x2="946.6" y2="710" stroke="#000" stroke-width="2"/>
<line x1="1196.6" y1="717" x2="1196.6" y2="710" stroke="#000" stroke-width="2"/>
<g transform="translate(481.65,729.33) scale(1,1.0279)"><text x="0" y="0" font-family='"Liberation Sans", sans-serif' font-size="37.24" fill="#000" stroke="#000" stroke-width="0.5" stroke-linejoin="round">0</text></g>
<g transform="translate(481.51,443.5) scale(1,1.0088)"><path transform="translate(0,0) scale(0.01885,-0.01885)" d="M763,0 L583,0 L583,1097 C540,1058 483,1019 412,979 C341,939 278,909 222,890 L222,1056 C323,1101 410,1156 486,1221 C561,1285 615,1348 646,1409 L763,1409 Z" fill="#000" stroke="#000" stroke-width="26.52" stroke-linejoin="round"/></g>
<g transform="translate(481.02,157.5) scale(1,0.9878)"><text x="0" y="0" font-family='"Liberation Sans", sans-serif' font-size="39.29" fill="#000" stroke="#000" stroke-width="0.5" stroke-linejoin="round">2</text></g>
<g transform="translate(545.58,759.02) scale(1,1.0409)"><text x="0" y="0" font-family='"Liberation Sans", sans-serif' font-size="37.18" fill="#000" stroke="#000" stroke-width="0.5" stroke-linejoin="round">3.2</text></g>
<g transform="translate(795.16,759.02) scale(1,1.0227)"><text x="0" y="0" font-family='"Liberation Sans", sans-serif' font-size="37.84" fill="#000" stroke="#000" stroke-width="0.5" stroke-linejoin="round">3.3</text></g>
<g transform="translate(1046.1,759.02) scale(1,1.0511)"><text x="0" y="0" font-family='"Liberation Sans", sans-serif' font-size="36.82" fill="#000" stroke="#000" stroke-width="0.5" stroke-linejoin="round">3.4</text></g>
<g transform="translate(1295.96,759.02) scale(1,1.0263)"><text x="0" y="0" font-family='"Liberation Sans", sans-serif' font-size="37.71" fill="#000" stroke="#000" stroke-width="0.5" stroke-linejoin="round">3.5</text></g>
<g transform="translate(807.05,803.2) scale(1,1.0316)"><text x="0" y="0" font-family='"Liberation Sans", sans-serif' font-size="40.86" fill="#000" stroke="#000" stroke-width="0.5" stroke-linejoin="round">Energy (eV)</text></g>
<g transform="translate(466.42,520.76) rotate(-90) scale(1,1.0043)"><text x="0" y="0" font-family='"Liberation Sans", sans-serif' font-size="40.7" fill="#000" stroke="#000" stroke-width="0.5" stroke-linejoin="round">Intensity (arb. units)</text></g>
<rect x="539.6" y="35.9" width="42.3" height="5.3" fill="#0450c6"/>
<rect x="581.7" y="35.9" width="42.4" height="5.3" fill="#bf0099"/>
<g transform="translate(636.29,51.52) scale(1,1.0471)"><path transform="translate(0,0) scale(0.01805,-0.01805)" d="M763,0 L583,0 L583,1097 C540,1058 483,1019 412,979 C341,939 278,909 222,890 L222,1056 C323,1101 410,1156 486,1221 C561,1285 615,1348 646,1409 L763,1409 Z" fill="#000" stroke="#000" stroke-width="27.71" stroke-linejoin="round"/><text x="20.56" y="0" font-family='"Liberation Sans", sans-serif' font-size="36.96" fill="#000" stroke="#000" stroke-width="0.5" stroke-linejoin="round">.732 eV</text></g>
<g transform="translate(637.65,86.55) scale(1,0.9723)"><text x="0" y="0" font-family='"Liberation Sans", sans-serif' font-size="36.55" fill="#000" stroke="#000" stroke-width="0.5" stroke-linejoin="round">excitation</text></g>
<g transform="translate(729.3,524.47) scale(1,1.0526)"><text x="0" y="0" font-family='"Liberation Sans", sans-serif' font-size="41.53" fill="#0450c6" stroke="#0450c6" stroke-width="0.5" stroke-linejoin="round">UPL</text></g>
<g transform="translate(1042.89,525.17) scale(1,1.0605)"><text x="0" y="0" font-family='"Liberation Sans", sans-serif' font-size="41.55" fill="#bf0099" stroke="#bf0099" stroke-width="0.5" stroke-linejoin="round">CW SHG</text></g>
<g transform="translate(897.73,55) scale(1,1.0447)"><text x="0" y="0" font-family='"Liberation Sans", sans-serif' font-size="37.71" fill="#f15a24" stroke="#f15a24" stroke-width="0.5" stroke-linejoin="round">4</text></g>
<g transform="translate(975.01,338.5) scale(1,0.9029)"><text x="0" y="0" font-family='"Liberation Sans", sans-serif' font-size="43.46" fill="#f15a24" stroke="#f15a24" stroke-width="0.5" stroke-linejoin="round">2</text></g>
<g transform="translate(857.36,457.51) scale(1,1.0379)"><text x="0" y="0" font-family='"Liberation Sans", sans-serif' font-size="38.39" fill="#f15a24" stroke="#f15a24" stroke-width="0.5" stroke-linejoin="round">5</text></g>
<g transform="translate(937.14,561.11) scale(1,1.0339)"><text x="0" y="0" font-family='"Liberation Sans", sans-serif' font-size="38.39" fill="#f15a24" stroke="#f15a24" stroke-width="0.5" stroke-linejoin="round">3</text></g>
<g transform="translate(816.6,577.11) scale(1,1.0062)"><text x="0" y="0" font-family='"Liberation Sans", sans-serif' font-size="39.44" fill="#f15a24" stroke="#f15a24" stroke-width="0.5" stroke-linejoin="round">6</text></g>
<g transform="translate(775.97,640.5) scale(1,0.9985)"><text x="0" y="0" font-family='"Liberation Sans", sans-serif' font-size="39.6" fill="#f15a24" stroke="#f15a24" stroke-width="0.5" stroke-linejoin="round">7</text></g>
<g transform="translate(736.7,663.62) scale(1,1.0013)"><text x="0" y="0" font-family='"Liberation Sans", sans-serif' font-size="39.21" fill="#f15a24" stroke="#f15a24" stroke-width="0.5" stroke-linejoin="round">8</text></g>
<g transform="translate(698.55,672.32) scale(1,0.9894)"><text x="0" y="0" font-family='"Liberation Sans", sans-serif' font-size="39.4" fill="#f15a24" stroke="#f15a24" stroke-width="0.5" stroke-linejoin="round">9</text></g>
<g transform="translate(1012.25,681.8) scale(1,0.9616)"><path transform="translate(0,0) scale(0.02052,-0.02052)" d="M763,0 L583,0 L583,1097 C540,1058 483,1019 412,979 C341,939 278,909 222,890 L222,1056 C323,1101 410,1156 486,1221 C561,1285 615,1348 646,1409 L763,1409 Z" fill="#f15a24" stroke="#f15a24" stroke-width="24.37" stroke-linejoin="round"/></g>
<g transform="translate(1051.71,686.31) scale(1,1.0499)"><text x="0" y="0" font-family='"Liberation Sans", sans-serif' font-size="38.07" fill="#f15a24" stroke="#f15a24" stroke-width="0.5" stroke-linejoin="round">0</text></g>
<g clip-path="url(#clipI)">
<path d="M610,326.4 C611.17,326.47 614.83,326.87 617,326.8 C619.17,326.73 620.9,326.08 623,326 C625.1,325.92 627.43,326.37 629.6,326.3 C631.77,326.23 633.53,325.87 636,325.6 C638.47,325.33 641.9,325.03 644.4,324.7 C646.9,324.37 648.55,324.08 651,323.6 C653.45,323.12 656.6,322.4 659.1,321.8 C661.6,321.2 663.53,320.75 666,320 C668.47,319.25 671.4,318.38 673.9,317.3 C676.4,316.22 678.98,314.63 681,313.5 C683.02,312.37 684.72,311.5 686,310.5 C687.28,309.5 687.53,308.42 688.7,307.5 C689.87,306.58 691.52,306.17 693,305 C694.48,303.83 696.3,302.25 697.6,300.5 C698.9,298.75 699.82,296.87 700.8,294.5 C701.78,292.13 702.67,289.22 703.5,286.3 C704.33,283.38 705.07,280.45 705.8,277 C706.53,273.55 707.17,269.93 707.9,265.6 C708.63,261.27 709.45,255.93 710.2,251 C710.95,246.07 711.67,241 712.4,236 C713.13,231 713.87,225.93 714.6,221 C715.33,216.07 716.07,211.57 716.8,206.4 C717.53,201.23 718.27,195.42 719,190 C719.73,184.58 720.45,179.73 721.2,173.9 C721.95,168.07 722.75,160.92 723.5,155 C724.25,149.08 725.07,142.57 725.7,138.4 C726.33,134.23 726.82,131.77 727.3,130 C727.78,128.23 728.15,127.63 728.6,127.8 C729.05,127.97 729.5,128.73 730,131 C730.5,133.27 730.97,137.07 731.6,141.4 C732.23,145.73 733.07,151.58 733.8,157 C734.53,162.42 735.27,168.07 736,173.9 C736.73,179.73 737.47,186.08 738.2,192 C738.93,197.92 739.67,203.73 740.4,209.4 C741.13,215.07 741.85,220.57 742.6,226 C743.35,231.43 744.15,237 744.9,242 C745.65,247 746.37,251.58 747.1,256 C747.83,260.42 748.45,264.33 749.3,268.5 C750.15,272.67 751.22,277.05 752.2,281 C753.18,284.95 754.08,288.73 755.2,292.2 C756.32,295.67 757.67,298.92 758.9,301.8 C760.13,304.68 761.25,307.3 762.6,309.5 C763.95,311.7 765.52,313.45 767,315 C768.48,316.55 769.83,317.63 771.5,318.8 C773.17,319.97 775.03,321.07 777,322 C778.97,322.93 781.13,323.67 783.3,324.4 C785.47,325.13 787.55,325.8 790,326.4 C792.45,327 795.17,327.53 798,328 C800.83,328.47 804.17,328.9 807,329.2 C809.83,329.5 812.5,329.63 815,329.8 C817.5,329.97 819.5,330.07 822,330.2 C824.5,330.33 827.58,330.5 830,330.6 C832.42,330.7 834,330.7 836.5,330.8 C839,330.9 842.25,331.07 845,331.2 C847.75,331.33 850.17,331.5 853,331.6 C855.83,331.7 858.67,331.73 862,331.8 C865.33,331.87 871.17,331.97 873,332" fill="none" stroke="#ee0000" stroke-width="4.3" stroke-linejoin="round"/>
<circle cx="613.6" cy="332.6" r="4.9" fill="url(#sphB)"/>
<circle cx="630.4" cy="332.6" r="4.9" fill="url(#sphB)"/>
<circle cx="640.6" cy="331.8" r="4.9" fill="url(#sphB)"/>
<circle cx="651.2" cy="331" r="4.9" fill="url(#sphB)"/>
<circle cx="661.2" cy="332.1" r="4.9" fill="url(#sphB)"/>
<circle cx="670.8" cy="332.1" r="4.9" fill="url(#sphB)"/>
<circle cx="679.8" cy="331" r="4.9" fill="url(#sphB)"/>
<circle cx="690" cy="329.1" r="4.9" fill="url(#sphB)"/>
<circle cx="700" cy="322.5" r="4.9" fill="url(#sphB)"/>
<circle cx="703.7" cy="316.2" r="4.9" fill="url(#sphB)"/>
<circle cx="706.6" cy="307" r="4.9" fill="url(#sphB)"/>
<circle cx="708.5" cy="299.6" r="4.9" fill="url(#sphB)"/>
<circle cx="711.4" cy="292.2" r="4.9" fill="url(#sphB)"/>
<circle cx="714" cy="273" r="4.9" fill="url(#sphB)"/>
<circle cx="714.9" cy="270.5" r="4.9" fill="url(#sphB)"/>
<circle cx="717.7" cy="249" r="4.9" fill="url(#sphB)"/>
<circle cx="718.6" cy="205.5" r="4.9" fill="url(#sphB)"/>
<circle cx="720" cy="169" r="4.9" fill="url(#sphB)"/>
<circle cx="722.7" cy="129.6" r="4.9" fill="url(#sphB)"/>
<circle cx="729" cy="128.7" r="4.9" fill="url(#sphB)"/>
<circle cx="734.5" cy="165" r="4.9" fill="url(#sphB)"/>
<circle cx="738.4" cy="196.1" r="4.9" fill="url(#sphB)"/>
<circle cx="744" cy="229.2" r="4.9" fill="url(#sphB)"/>
<circle cx="747.8" cy="277.4" r="4.9" fill="url(#sphB)"/>
<circle cx="758.2" cy="302.5" r="4.9" fill="url(#sphB)"/>
<circle cx="767.1" cy="318.8" r="4.9" fill="url(#sphB)"/>
<circle cx="777.4" cy="326.2" r="4.9" fill="url(#sphB)"/>
<circle cx="796.6" cy="330.2" r="4.9" fill="url(#sphB)"/>
<circle cx="807" cy="331" r="4.9" fill="url(#sphB)"/>
<circle cx="817.3" cy="331.5" r="4.9" fill="url(#sphB)"/>
<circle cx="827.7" cy="332" r="4.9" fill="url(#sphB)"/>
<circle cx="836.5" cy="332.2" r="4.9" fill="url(#sphB)"/>
<circle cx="855.7" cy="332.3" r="4.9" fill="url(#sphB)"/>
<circle cx="864.6" cy="332.3" r="4.9" fill="url(#sphB)"/>
</g>
<rect x="612.5" y="115.4" width="258.9" height="218.9" fill="none" stroke="#3c3c3c" stroke-width="1.1"/>
<line x1="613" y1="125.5" x2="617.4" y2="125.5" stroke="#6a6a6a" stroke-width="1"/>
<line x1="613" y1="230" x2="617.4" y2="230" stroke="#6a6a6a" stroke-width="1"/>
<line x1="613" y1="177.8" x2="615.6" y2="177.8" stroke="#6a6a6a" stroke-width="1"/>
<line x1="613" y1="282.1" x2="615.6" y2="282.1" stroke="#6a6a6a" stroke-width="1"/>
<line x1="695.7" y1="333.8" x2="695.7" y2="329.4" stroke="#6a6a6a" stroke-width="1"/>
<line x1="788.3" y1="333.8" x2="788.3" y2="329.4" stroke="#6a6a6a" stroke-width="1"/>
<line x1="741.5" y1="333.8" x2="741.5" y2="331" stroke="#6a6a6a" stroke-width="1"/>
<g transform="translate(564.18,135.57) scale(1,1.0383)"><path transform="translate(0,0) scale(0.01587,-0.01587)" d="M763,0 L583,0 L583,1097 C540,1058 483,1019 412,979 C341,939 278,909 222,890 L222,1056 C323,1101 410,1156 486,1221 C561,1285 615,1348 646,1409 L763,1409 Z" fill="#000" stroke="#000" stroke-width="31.5" stroke-linejoin="round"/><text x="18.08" y="0" font-family='"Liberation Sans", sans-serif' font-size="32.51" fill="#000" stroke="#000" stroke-width="0.5" stroke-linejoin="round">.0</text></g>
<g transform="translate(564.63,239.77) scale(1,1.0422)"><text x="0" y="0" font-family='"Liberation Sans", sans-serif' font-size="32.39" fill="#000" stroke="#000" stroke-width="0.5" stroke-linejoin="round">0.5</text></g>
<g transform="translate(564.65,343.77) scale(1,1.0564)"><text x="0" y="0" font-family='"Liberation Sans", sans-serif' font-size="32.09" fill="#000" stroke="#000" stroke-width="0.5" stroke-linejoin="round">0.0</text></g>
<g transform="translate(663.02,360.91) scale(1,0.8888)"><path transform="translate(0,0) scale(0.01614,-0.01614)" d="M763,0 L583,0 L583,1097 C540,1058 483,1019 412,979 C341,939 278,909 222,890 L222,1056 C323,1101 410,1156 486,1221 C561,1285 615,1348 646,1409 L763,1409 Z" fill="#000" stroke="#000" stroke-width="30.98" stroke-linejoin="round"/><text x="18.38" y="0" font-family='"Liberation Sans", sans-serif' font-size="33.06" fill="#000" stroke="#000" stroke-width="0.5" stroke-linejoin="round">.73</text></g>
<g transform="translate(755.61,361.2) scale(1,0.9379)"><path transform="translate(0,0) scale(0.01574,-0.01574)" d="M763,0 L583,0 L583,1097 C540,1058 483,1019 412,979 C341,939 278,909 222,890 L222,1056 C323,1101 410,1156 486,1221 C561,1285 615,1348 646,1409 L763,1409 Z" fill="#000" stroke="#000" stroke-width="31.77" stroke-linejoin="round"/><text x="17.93" y="0" font-family='"Liberation Sans", sans-serif' font-size="32.23" fill="#000" stroke="#000" stroke-width="0.5" stroke-linejoin="round">.74</text></g>
<g transform="translate(653.07,393.2) scale(1,0.9684)"><text x="0" y="0" font-family='"Liberation Sans", sans-serif' font-size="33.32" fill="#000" stroke="#000" stroke-width="0.5" stroke-linejoin="round">Energy (eV)</text></g>
<g transform="translate(556.33,356.19) rotate(-90) scale(1,0.8883)"><text x="0" y="0" font-family='"Liberation Sans", sans-serif' font-size="33.45" fill="#000" stroke="#000" stroke-width="0.5" stroke-linejoin="round">Intensity (norm.)</text></g>
<g transform="translate(640.27,160) scale(1,1.0343)"><text x="0" y="0" font-family='"Liberation Sans", sans-serif' font-size="33.31" fill="#ee0000" stroke="#ee0000" stroke-width="0.5" stroke-linejoin="round">PL</text></g>
<g transform="translate(765.94,159.67) scale(1,1.0223)"><text x="0" y="0" font-family='"Liberation Sans", sans-serif' font-size="33.22" fill="#0450c6" stroke="#0450c6" stroke-width="0.5" stroke-linejoin="round">UPLE</text></g>
<g fill="none" stroke="#d6d6d6" stroke-width="0.8">
<circle cx="1074.5" cy="181.4" r="21.7"/>
<circle cx="1074.5" cy="181.4" r="57.6"/>
<line x1="1074.5" y1="181.4" x2="1182.6" y2="181.4"/>
<line x1="1074.5" y1="181.4" x2="1168.12" y2="127.35"/>
<line x1="1074.5" y1="181.4" x2="1128.55" y2="87.78"/>
<line x1="1074.5" y1="181.4" x2="1074.5" y2="73.3"/>
<line x1="1074.5" y1="181.4" x2="1020.45" y2="87.78"/>
<line x1="1074.5" y1="181.4" x2="980.88" y2="127.35"/>
<line x1="1074.5" y1="181.4" x2="966.4" y2="181.4"/>
<line x1="1074.5" y1="181.4" x2="980.88" y2="235.45"/>
<line x1="1074.5" y1="181.4" x2="1020.45" y2="275.02"/>
<line x1="1074.5" y1="181.4" x2="1074.5" y2="289.5"/>
<line x1="1074.5" y1="181.4" x2="1128.55" y2="275.02"/>
<line x1="1074.5" y1="181.4" x2="1168.12" y2="235.45"/>
</g>
<circle cx="1074.5" cy="181.4" r="108.1" fill="none" stroke="#858585" stroke-width="0.9"/>
<path d="M1182.6,181.4 L1178.4,181.4 M1178.92,153.42 L1174.86,154.51 M1168.12,127.35 L1164.48,129.45 M1150.94,104.96 L1147.97,107.93 M1128.55,87.78 L1126.45,91.42 M1102.48,76.98 L1101.39,81.04 M1074.5,73.3 L1074.5,77.5 M1046.52,76.98 L1047.61,81.04 M1020.45,87.78 L1022.55,91.42 M998.06,104.96 L1001.03,107.93 M980.88,127.35 L984.52,129.45 M970.08,153.42 L974.14,154.51 M966.4,181.4 L970.6,181.4 M970.08,209.38 L974.14,208.29 M980.88,235.45 L984.52,233.35 M998.06,257.84 L1001.03,254.87 M1020.45,275.02 L1022.55,271.38 M1046.52,285.82 L1047.61,281.76 M1074.5,289.5 L1074.5,285.3 M1102.48,285.82 L1101.39,281.76 M1128.55,275.02 L1126.45,271.38 M1150.94,257.84 L1147.97,254.87 M1168.12,235.45 L1164.48,233.35 M1178.92,209.38 L1174.86,208.29" stroke="#858585" stroke-width="0.9"/>
<path d="M1082.22,181.4 L1082.92,181.36 L1083.63,181.32 L1084.37,181.27 L1085.13,181.21 L1085.91,181.15 L1086.71,181.08 L1087.53,181 L1088.37,180.92 L1089.23,180.82 L1090.1,180.72 L1090.99,180.61 L1091.9,180.49 L1092.83,180.36 L1093.77,180.22 L1094.72,180.07 L1095.69,179.92 L1096.67,179.75 L1097.66,179.58 L1098.66,179.39 L1099.68,179.2 L1100.7,178.99 L1101.73,178.78 L1102.77,178.55 L1103.82,178.32 L1104.87,178.07 L1105.93,177.82 L1106.99,177.55 L1108.06,177.28 L1109.13,176.99 L1110.21,176.7 L1111.28,176.39 L1112.36,176.08 L1113.44,175.75 L1114.52,175.42 L1115.6,175.07 L1116.67,174.72 L1117.74,174.36 L1118.81,173.98 L1119.88,173.6 L1120.94,173.21 L1122,172.81 L1123.05,172.4 L1124.09,171.99 L1125.12,171.56 L1126.15,171.13 L1127.17,170.68 L1128.18,170.24 L1129.18,169.78 L1130.16,169.31 L1131.14,168.84 L1132.1,168.37 L1133.05,167.88 L1133.99,167.39 L1134.91,166.9 L1135.82,166.4 L1136.71,165.89 L1137.58,165.38 L1138.44,164.86 L1139.29,164.34 L1140.11,163.82 L1140.92,163.29 L1141.71,162.76 L1142.48,162.23 L1143.22,161.69 L1143.95,161.16 L1144.66,160.62 L1145.35,160.08 L1146.01,159.54 L1146.66,158.99 L1147.28,158.45 L1147.88,157.91 L1148.45,157.37 L1149.01,156.83 L1149.53,156.29 L1150.04,155.76 L1150.52,155.22 L1150.97,154.69 L1151.41,154.17 L1151.81,153.64 L1152.19,153.12 L1152.54,152.61 L1152.87,152.1 L1153.18,151.59 L1153.45,151.09 L1153.7,150.6 L1153.93,150.11 L1154.12,149.63 L1154.29,149.16 L1154.44,148.7 L1154.55,148.24 L1154.64,147.79 L1154.71,147.35 L1154.74,146.92 L1154.75,146.5 L1154.74,146.09 L1154.69,145.7 L1154.62,145.31 L1154.53,144.93 L1154.4,144.56 L1154.26,144.21 L1154.08,143.87 L1153.88,143.54 L1153.65,143.22 L1153.4,142.92 L1153.12,142.63 L1152.82,142.35 L1152.49,142.09 L1152.14,141.84 L1151.76,141.61 L1151.36,141.39 L1150.93,141.19 L1150.49,141 L1150.01,140.82 L1149.52,140.67 L1149,140.53 L1148.47,140.4 L1147.91,140.29 L1147.32,140.2 L1146.72,140.12 L1146.1,140.06 L1145.46,140.02 L1144.8,139.99 L1144.12,139.98 L1143.42,139.99 L1142.7,140.02 L1141.96,140.06 L1141.21,140.12 L1140.44,140.19 L1139.66,140.29 L1138.86,140.4 L1138.05,140.53 L1137.22,140.67 L1136.38,140.83 L1135.52,141.01 L1134.65,141.21 L1133.77,141.42 L1132.88,141.65 L1131.98,141.9 L1131.06,142.16 L1130.14,142.44 L1129.21,142.73 L1128.27,143.05 L1127.32,143.37 L1126.37,143.72 L1125.41,144.07 L1124.44,144.45 L1123.47,144.83 L1122.49,145.24 L1121.51,145.65 L1120.52,146.08 L1119.54,146.53 L1118.55,146.99 L1117.56,147.46 L1116.56,147.94 L1115.57,148.44 L1114.58,148.94 L1113.59,149.46 L1112.6,149.99 L1111.61,150.54 L1110.63,151.09 L1109.64,151.65 L1108.67,152.22 L1107.69,152.8 L1106.72,153.39 L1105.76,153.98 L1104.81,154.59 L1103.86,155.2 L1102.91,155.82 L1101.98,156.44 L1101.05,157.07 L1100.14,157.7 L1099.23,158.34 L1098.33,158.98 L1097.44,159.63 L1096.57,160.27 L1095.7,160.92 L1094.85,161.57 L1094.01,162.23 L1093.18,162.88 L1092.37,163.53 L1091.57,164.18 L1090.78,164.83 L1090.01,165.48 L1089.25,166.12 L1088.51,166.76 L1087.79,167.4 L1087.08,168.03 L1086.39,168.65 L1085.71,169.27 L1085.05,169.89 L1084.41,170.49 L1083.79,171.09 L1083.18,171.68 L1082.59,172.25 L1082.02,172.82 L1081.47,173.38 L1080.94,173.92 L1080.43,174.46 L1079.94,174.98 L1079.47,175.48 L1079.01,175.97 L1078.58,176.45 L1078.17,176.91 L1077.78,177.35 L1077.41,177.78 L1077.06,178.19 L1076.73,178.57 L1076.42,178.94 L1076.14,179.29 L1075.87,179.61 L1075.63,179.92 L1075.41,180.19 L1075.21,180.45 L1075.04,180.68 L1074.88,180.88 L1074.76,181.05 L1074.65,181.19 L1074.57,181.3 L1074.52,181.37 L1074.5,181.4 L1074.52,181.37 L1074.57,181.3 L1074.65,181.19 L1074.74,181.04 L1074.86,180.86 L1075,180.65 L1075.15,180.41 L1075.32,180.13 L1075.51,179.83 L1075.71,179.5 L1075.93,179.14 L1076.15,178.75 L1076.39,178.34 L1076.65,177.9 L1076.91,177.43 L1077.18,176.94 L1077.46,176.42 L1077.76,175.87 L1078.06,175.3 L1078.36,174.71 L1078.68,174.09 L1079,173.45 L1079.32,172.79 L1079.65,172.1 L1079.99,171.4 L1080.33,170.67 L1080.67,169.92 L1081.01,169.15 L1081.36,168.36 L1081.71,167.55 L1082.06,166.72 L1082.41,165.87 L1082.76,165.01 L1083.11,164.12 L1083.46,163.22 L1083.81,162.31 L1084.16,161.38 L1084.5,160.43 L1084.84,159.47 L1085.18,158.5 L1085.51,157.51 L1085.84,156.51 L1086.17,155.5 L1086.49,154.47 L1086.8,153.44 L1087.11,152.39 L1087.42,151.34 L1087.71,150.28 L1088,149.2 L1088.28,148.13 L1088.56,147.04 L1088.82,145.95 L1089.08,144.85 L1089.33,143.75 L1089.57,142.65 L1089.8,141.54 L1090.02,140.43 L1090.24,139.31 L1090.44,138.2 L1090.63,137.09 L1090.81,135.97 L1090.98,134.86 L1091.14,133.75 L1091.29,132.64 L1091.43,131.53 L1091.55,130.43 L1091.67,129.33 L1091.77,128.24 L1091.86,127.15 L1091.94,126.07 L1092.01,125 L1092.07,123.94 L1092.11,122.88 L1092.14,121.83 L1092.16,120.8 L1092.17,119.77 L1092.17,118.76 L1092.15,117.75 L1092.12,116.76 L1092.08,115.79 L1092.03,114.83 L1091.96,113.88 L1091.89,112.95 L1091.8,112.03 L1091.69,111.13 L1091.58,110.25 L1091.46,109.38 L1091.32,108.53 L1091.18,107.71 L1091.02,106.9 L1090.85,106.11 L1090.67,105.34 L1090.48,104.59 L1090.27,103.86 L1090.06,103.16 L1089.84,102.48 L1089.61,101.82 L1089.37,101.18 L1089.12,100.57 L1088.86,99.98 L1088.59,99.42 L1088.31,98.88 L1088.02,98.36 L1087.73,97.87 L1087.43,97.41 L1087.12,96.97 L1086.8,96.56 L1086.48,96.18 L1086.15,95.82 L1085.81,95.49 L1085.47,95.19 L1085.12,94.92 L1084.77,94.67 L1084.41,94.45 L1084.04,94.26 L1083.68,94.1 L1083.3,93.96 L1082.93,93.86 L1082.55,93.78 L1082.17,93.73 L1081.79,93.72 L1081.4,93.73 L1081.01,93.76 L1080.62,93.83 L1080.23,93.93 L1079.84,94.05 L1079.45,94.2 L1079.06,94.39 L1078.67,94.59 L1078.28,94.83 L1077.89,95.1 L1077.5,95.39 L1077.12,95.71 L1076.73,96.06 L1076.35,96.44 L1075.98,96.84 L1075.6,97.27 L1075.23,97.73 L1074.86,98.21 L1074.5,98.72 L1074.14,99.26 L1073.79,99.82 L1073.44,100.4 L1073.1,101.01 L1072.76,101.65 L1072.43,102.3 L1072.1,102.98 L1071.79,103.69 L1071.48,104.41 L1071.17,105.16 L1070.87,105.93 L1070.59,106.72 L1070.31,107.53 L1070.03,108.36 L1069.77,109.21 L1069.51,110.08 L1069.27,110.97 L1069.03,111.87 L1068.8,112.79 L1068.58,113.73 L1068.37,114.69 L1068.17,115.66 L1067.98,116.64 L1067.8,117.64 L1067.63,118.65 L1067.47,119.67 L1067.32,120.71 L1067.18,121.76 L1067.05,122.82 L1066.93,123.88 L1066.82,124.96 L1066.72,126.05 L1066.63,127.14 L1066.56,128.24 L1066.49,129.35 L1066.43,130.46 L1066.39,131.58 L1066.35,132.7 L1066.33,133.83 L1066.31,134.96 L1066.31,136.09 L1066.31,137.22 L1066.33,138.35 L1066.35,139.49 L1066.39,140.62 L1066.43,141.75 L1066.49,142.88 L1066.55,144 L1066.62,145.12 L1066.7,146.24 L1066.8,147.35 L1066.89,148.45 L1067,149.55 L1067.12,150.64 L1067.24,151.73 L1067.37,152.8 L1067.51,153.86 L1067.65,154.92 L1067.8,155.96 L1067.96,156.99 L1068.12,158.01 L1068.29,159.01 L1068.47,160.01 L1068.65,160.98 L1068.83,161.94 L1069.02,162.89 L1069.21,163.82 L1069.4,164.73 L1069.6,165.63 L1069.8,166.51 L1070.01,167.36 L1070.21,168.2 L1070.42,169.02 L1070.63,169.82 L1070.83,170.6 L1071.04,171.35 L1071.25,172.08 L1071.45,172.79 L1071.66,173.48 L1071.86,174.14 L1072.06,174.78 L1072.25,175.39 L1072.45,175.98 L1072.63,176.54 L1072.82,177.07 L1072.99,177.58 L1073.17,178.06 L1073.33,178.51 L1073.49,178.93 L1073.64,179.32 L1073.78,179.68 L1073.91,180.01 L1074.03,180.31 L1074.14,180.57 L1074.24,180.81 L1074.32,181 L1074.39,181.16 L1074.45,181.29 L1074.48,181.37 L1074.5,181.4 L1074.48,181.37 L1074.45,181.29 L1074.39,181.17 L1074.31,181.01 L1074.21,180.82 L1074.1,180.59 L1073.96,180.34 L1073.81,180.05 L1073.65,179.74 L1073.46,179.4 L1073.26,179.04 L1073.03,178.64 L1072.8,178.23 L1072.54,177.79 L1072.27,177.33 L1071.98,176.85 L1071.67,176.34 L1071.34,175.82 L1071,175.27 L1070.64,174.71 L1070.26,174.13 L1069.87,173.53 L1069.45,172.92 L1069.03,172.29 L1068.58,171.65 L1068.12,170.99 L1067.64,170.32 L1067.15,169.63 L1066.64,168.94 L1066.11,168.23 L1065.57,167.51 L1065.01,166.78 L1064.43,166.05 L1063.85,165.3 L1063.24,164.55 L1062.62,163.79 L1061.99,163.03 L1061.34,162.25 L1060.68,161.48 L1060,160.7 L1059.32,159.92 L1058.61,159.13 L1057.9,158.34 L1057.17,157.55 L1056.44,156.76 L1055.69,155.97 L1054.92,155.18 L1054.15,154.4 L1053.37,153.61 L1052.58,152.83 L1051.77,152.05 L1050.96,151.27 L1050.14,150.5 L1049.31,149.73 L1048.47,148.97 L1047.63,148.22 L1046.78,147.47 L1045.92,146.73 L1045.06,146 L1044.19,145.27 L1043.31,144.56 L1042.43,143.86 L1041.55,143.16 L1040.67,142.48 L1039.78,141.81 L1038.89,141.14 L1037.99,140.5 L1037.1,139.86 L1036.2,139.24 L1035.31,138.63 L1034.41,138.03 L1033.52,137.45 L1032.63,136.89 L1031.74,136.34 L1030.85,135.8 L1029.96,135.28 L1029.08,134.78 L1028.21,134.29 L1027.33,133.82 L1026.47,133.37 L1025.61,132.93 L1024.76,132.52 L1023.91,132.12 L1023.07,131.74 L1022.24,131.37 L1021.42,131.03 L1020.61,130.7 L1019.81,130.4 L1019.02,130.11 L1018.24,129.84 L1017.47,129.6 L1016.71,129.37 L1015.97,129.16 L1015.24,128.97 L1014.52,128.8 L1013.82,128.65 L1013.13,128.52 L1012.46,128.41 L1011.81,128.33 L1011.17,128.26 L1010.54,128.21 L1009.94,128.18 L1009.35,128.17 L1008.78,128.18 L1008.23,128.21 L1007.69,128.26 L1007.18,128.33 L1006.68,128.42 L1006.21,128.52 L1005.76,128.65 L1005.32,128.8 L1004.91,128.96 L1004.52,129.14 L1004.15,129.35 L1003.81,129.57 L1003.48,129.8 L1003.18,130.06 L1002.9,130.33 L1002.65,130.62 L1002.41,130.93 L1002.21,131.25 L1002.02,131.59 L1001.86,131.94 L1001.72,132.31 L1001.61,132.7 L1001.52,133.1 L1001.46,133.51 L1001.42,133.94 L1001.41,134.39 L1001.42,134.84 L1001.46,135.31 L1001.52,135.8 L1001.6,136.29 L1001.71,136.8 L1001.85,137.31 L1002.01,137.84 L1002.2,138.38 L1002.41,138.93 L1002.64,139.49 L1002.9,140.06 L1003.18,140.64 L1003.49,141.23 L1003.82,141.82 L1004.18,142.42 L1004.56,143.03 L1004.96,143.65 L1005.39,144.27 L1005.84,144.89 L1006.32,145.53 L1006.81,146.16 L1007.33,146.8 L1007.87,147.45 L1008.43,148.1 L1009.01,148.75 L1009.62,149.4 L1010.24,150.06 L1010.89,150.72 L1011.55,151.37 L1012.24,152.03 L1012.94,152.69 L1013.66,153.35 L1014.4,154.01 L1015.16,154.67 L1015.93,155.32 L1016.72,155.98 L1017.53,156.63 L1018.35,157.28 L1019.19,157.92 L1020.04,158.56 L1020.9,159.2 L1021.78,159.83 L1022.67,160.46 L1023.58,161.08 L1024.49,161.7 L1025.42,162.31 L1026.35,162.92 L1027.3,163.52 L1028.25,164.11 L1029.22,164.69 L1030.19,165.27 L1031.16,165.84 L1032.15,166.4 L1033.14,166.95 L1034.13,167.5 L1035.13,168.03 L1036.13,168.56 L1037.13,169.08 L1038.14,169.58 L1039.14,170.08 L1040.15,170.57 L1041.16,171.05 L1042.17,171.51 L1043.17,171.97 L1044.17,172.42 L1045.17,172.85 L1046.17,173.28 L1047.16,173.69 L1048.14,174.09 L1049.12,174.48 L1050.09,174.86 L1051.05,175.23 L1052.01,175.58 L1052.95,175.93 L1053.89,176.26 L1054.82,176.58 L1055.73,176.89 L1056.63,177.19 L1057.52,177.48 L1058.39,177.76 L1059.25,178.02 L1060.1,178.27 L1060.93,178.51 L1061.74,178.75 L1062.53,178.97 L1063.31,179.17 L1064.07,179.37 L1064.81,179.56 L1065.52,179.74 L1066.22,179.9 L1066.89,180.06 L1067.54,180.2 L1068.17,180.34 L1068.78,180.47 L1069.36,180.59 L1069.91,180.69 L1070.44,180.79 L1070.94,180.88 L1071.41,180.97 L1071.85,181.04 L1072.27,181.11 L1072.65,181.16 L1073,181.22 L1073.32,181.26 L1073.6,181.3 L1073.85,181.33 L1074.07,181.35 L1074.24,181.37 L1074.38,181.39 L1074.46,181.4 L1074.5,181.4 L1074.46,181.4 L1074.38,181.39 L1074.24,181.38 L1074.07,181.37 L1073.85,181.36 L1073.6,181.34 L1073.31,181.33 L1072.99,181.32 L1072.64,181.31 L1072.25,181.3 L1071.83,181.3 L1071.38,181.29 L1070.9,181.29 L1070.39,181.29 L1069.86,181.3 L1069.29,181.31 L1068.7,181.32 L1068.08,181.34 L1067.44,181.37 L1066.78,181.4 L1066.08,181.44 L1065.37,181.48 L1064.63,181.53 L1063.87,181.59 L1063.09,181.65 L1062.29,181.72 L1061.47,181.8 L1060.63,181.88 L1059.77,181.98 L1058.9,182.08 L1058.01,182.19 L1057.1,182.31 L1056.17,182.44 L1055.23,182.58 L1054.28,182.73 L1053.31,182.88 L1052.33,183.05 L1051.34,183.22 L1050.34,183.41 L1049.32,183.6 L1048.3,183.81 L1047.27,184.02 L1046.23,184.25 L1045.18,184.48 L1044.13,184.73 L1043.07,184.98 L1042.01,185.25 L1040.94,185.52 L1039.87,185.81 L1038.79,186.1 L1037.72,186.41 L1036.64,186.72 L1035.56,187.05 L1034.48,187.38 L1033.4,187.73 L1032.33,188.08 L1031.26,188.44 L1030.19,188.82 L1029.12,189.2 L1028.06,189.59 L1027,189.99 L1025.95,190.4 L1024.91,190.81 L1023.88,191.24 L1022.85,191.67 L1021.83,192.12 L1020.82,192.56 L1019.82,193.02 L1018.84,193.49 L1017.86,193.96 L1016.9,194.43 L1015.95,194.92 L1015.01,195.41 L1014.09,195.9 L1013.18,196.4 L1012.29,196.91 L1011.42,197.42 L1010.56,197.94 L1009.71,198.46 L1008.89,198.98 L1008.08,199.51 L1007.29,200.04 L1006.52,200.57 L1005.78,201.11 L1005.05,201.64 L1004.34,202.18 L1003.65,202.72 L1002.99,203.26 L1002.34,203.81 L1001.72,204.35 L1001.12,204.89 L1000.55,205.43 L999.99,205.97 L999.47,206.51 L998.96,207.04 L998.48,207.58 L998.03,208.11 L997.59,208.63 L997.19,209.16 L996.81,209.68 L996.46,210.19 L996.13,210.7 L995.82,211.21 L995.55,211.71 L995.3,212.2 L995.07,212.69 L994.88,213.17 L994.71,213.64 L994.56,214.1 L994.45,214.56 L994.36,215.01 L994.29,215.45 L994.26,215.88 L994.25,216.3 L994.26,216.71 L994.31,217.1 L994.38,217.49 L994.47,217.87 L994.6,218.24 L994.74,218.59 L994.92,218.93 L995.12,219.26 L995.35,219.58 L995.6,219.88 L995.88,220.17 L996.18,220.45 L996.51,220.71 L996.86,220.96 L997.24,221.19 L997.64,221.41 L998.07,221.61 L998.51,221.8 L998.99,221.98 L999.48,222.13 L1000,222.27 L1000.53,222.4 L1001.09,222.51 L1001.68,222.6 L1002.28,222.68 L1002.9,222.74 L1003.54,222.78 L1004.2,222.81 L1004.88,222.82 L1005.58,222.81 L1006.3,222.78 L1007.04,222.74 L1007.79,222.68 L1008.56,222.61 L1009.34,222.51 L1010.14,222.4 L1010.95,222.27 L1011.78,222.13 L1012.62,221.97 L1013.48,221.79 L1014.35,221.59 L1015.23,221.38 L1016.12,221.15 L1017.02,220.9 L1017.94,220.64 L1018.86,220.36 L1019.79,220.07 L1020.73,219.75 L1021.68,219.43 L1022.63,219.08 L1023.59,218.73 L1024.56,218.35 L1025.53,217.97 L1026.51,217.56 L1027.49,217.15 L1028.48,216.72 L1029.46,216.27 L1030.45,215.81 L1031.44,215.34 L1032.44,214.86 L1033.43,214.36 L1034.42,213.86 L1035.41,213.34 L1036.4,212.81 L1037.39,212.26 L1038.37,211.71 L1039.36,211.15 L1040.33,210.58 L1041.31,210 L1042.28,209.41 L1043.24,208.82 L1044.19,208.21 L1045.14,207.6 L1046.09,206.98 L1047.02,206.36 L1047.95,205.73 L1048.86,205.1 L1049.77,204.46 L1050.67,203.82 L1051.56,203.17 L1052.43,202.53 L1053.3,201.88 L1054.15,201.23 L1054.99,200.57 L1055.82,199.92 L1056.63,199.27 L1057.43,198.62 L1058.22,197.97 L1058.99,197.32 L1059.75,196.68 L1060.49,196.04 L1061.21,195.4 L1061.92,194.77 L1062.61,194.15 L1063.29,193.53 L1063.95,192.91 L1064.59,192.31 L1065.21,191.71 L1065.82,191.12 L1066.41,190.55 L1066.98,189.98 L1067.53,189.42 L1068.06,188.88 L1068.57,188.34 L1069.06,187.82 L1069.53,187.32 L1069.99,186.83 L1070.42,186.35 L1070.83,185.89 L1071.22,185.45 L1071.59,185.02 L1071.94,184.61 L1072.27,184.23 L1072.58,183.86 L1072.86,183.51 L1073.13,183.19 L1073.37,182.88 L1073.59,182.61 L1073.79,182.35 L1073.96,182.12 L1074.12,181.92 L1074.24,181.75 L1074.35,181.61 L1074.43,181.5 L1074.48,181.43 L1074.5,181.4 L1074.48,181.43 L1074.43,181.5 L1074.35,181.61 L1074.26,181.76 L1074.14,181.94 L1074,182.15 L1073.85,182.39 L1073.68,182.67 L1073.49,182.97 L1073.29,183.3 L1073.07,183.66 L1072.85,184.05 L1072.61,184.46 L1072.35,184.9 L1072.09,185.37 L1071.82,185.86 L1071.54,186.38 L1071.24,186.93 L1070.94,187.5 L1070.64,188.09 L1070.32,188.71 L1070,189.35 L1069.68,190.01 L1069.35,190.7 L1069.01,191.4 L1068.67,192.13 L1068.33,192.88 L1067.99,193.65 L1067.64,194.44 L1067.29,195.25 L1066.94,196.08 L1066.59,196.93 L1066.24,197.79 L1065.89,198.68 L1065.54,199.58 L1065.19,200.49 L1064.84,201.42 L1064.5,202.37 L1064.16,203.33 L1063.82,204.3 L1063.49,205.29 L1063.16,206.29 L1062.83,207.3 L1062.51,208.33 L1062.2,209.36 L1061.89,210.41 L1061.58,211.46 L1061.29,212.52 L1061,213.6 L1060.72,214.67 L1060.44,215.76 L1060.18,216.85 L1059.92,217.95 L1059.67,219.05 L1059.43,220.15 L1059.2,221.26 L1058.98,222.37 L1058.76,223.49 L1058.56,224.6 L1058.37,225.71 L1058.19,226.83 L1058.02,227.94 L1057.86,229.05 L1057.71,230.16 L1057.57,231.27 L1057.45,232.37 L1057.33,233.47 L1057.23,234.56 L1057.14,235.65 L1057.06,236.73 L1056.99,237.8 L1056.93,238.86 L1056.89,239.92 L1056.86,240.97 L1056.84,242 L1056.83,243.03 L1056.83,244.04 L1056.85,245.05 L1056.88,246.04 L1056.92,247.01 L1056.97,247.97 L1057.04,248.92 L1057.11,249.85 L1057.2,250.77 L1057.31,251.67 L1057.42,252.55 L1057.54,253.42 L1057.68,254.27 L1057.82,255.09 L1057.98,255.9 L1058.15,256.69 L1058.33,257.46 L1058.52,258.21 L1058.73,258.94 L1058.94,259.64 L1059.16,260.32 L1059.39,260.98 L1059.63,261.62 L1059.88,262.23 L1060.14,262.82 L1060.41,263.38 L1060.69,263.92 L1060.98,264.44 L1061.27,264.93 L1061.57,265.39 L1061.88,265.83 L1062.2,266.24 L1062.52,266.62 L1062.85,266.98 L1063.19,267.31 L1063.53,267.61 L1063.88,267.88 L1064.23,268.13 L1064.59,268.35 L1064.96,268.54 L1065.32,268.7 L1065.7,268.84 L1066.07,268.94 L1066.45,269.02 L1066.83,269.07 L1067.21,269.08 L1067.6,269.07 L1067.99,269.04 L1068.38,268.97 L1068.77,268.87 L1069.16,268.75 L1069.55,268.6 L1069.94,268.41 L1070.33,268.21 L1070.72,267.97 L1071.11,267.7 L1071.5,267.41 L1071.88,267.09 L1072.27,266.74 L1072.65,266.36 L1073.02,265.96 L1073.4,265.53 L1073.77,265.07 L1074.14,264.59 L1074.5,264.08 L1074.86,263.54 L1075.21,262.98 L1075.56,262.4 L1075.9,261.79 L1076.24,261.15 L1076.57,260.5 L1076.9,259.82 L1077.21,259.11 L1077.52,258.39 L1077.83,257.64 L1078.13,256.87 L1078.41,256.08 L1078.69,255.27 L1078.97,254.44 L1079.23,253.59 L1079.49,252.72 L1079.73,251.83 L1079.97,250.93 L1080.2,250.01 L1080.42,249.07 L1080.63,248.11 L1080.83,247.14 L1081.02,246.16 L1081.2,245.16 L1081.37,244.15 L1081.53,243.13 L1081.68,242.09 L1081.82,241.04 L1081.95,239.98 L1082.07,238.92 L1082.18,237.84 L1082.28,236.75 L1082.37,235.66 L1082.44,234.56 L1082.51,233.45 L1082.57,232.34 L1082.61,231.22 L1082.65,230.1 L1082.67,228.97 L1082.69,227.84 L1082.69,226.71 L1082.69,225.58 L1082.67,224.45 L1082.65,223.31 L1082.61,222.18 L1082.57,221.05 L1082.51,219.92 L1082.45,218.8 L1082.38,217.68 L1082.3,216.56 L1082.2,215.45 L1082.11,214.35 L1082,213.25 L1081.88,212.16 L1081.76,211.07 L1081.63,210 L1081.49,208.94 L1081.35,207.88 L1081.2,206.84 L1081.04,205.81 L1080.88,204.79 L1080.71,203.79 L1080.53,202.79 L1080.35,201.82 L1080.17,200.86 L1079.98,199.91 L1079.79,198.98 L1079.6,198.07 L1079.4,197.17 L1079.2,196.29 L1078.99,195.44 L1078.79,194.6 L1078.58,193.78 L1078.37,192.98 L1078.17,192.2 L1077.96,191.45 L1077.75,190.72 L1077.55,190.01 L1077.34,189.32 L1077.14,188.66 L1076.94,188.02 L1076.75,187.41 L1076.55,186.82 L1076.37,186.26 L1076.18,185.73 L1076.01,185.22 L1075.83,184.74 L1075.67,184.29 L1075.51,183.87 L1075.36,183.48 L1075.22,183.12 L1075.09,182.79 L1074.97,182.49 L1074.86,182.23 L1074.76,181.99 L1074.68,181.8 L1074.61,181.64 L1074.55,181.51 L1074.52,181.43 L1074.5,181.4 L1074.52,181.43 L1074.55,181.51 L1074.61,181.63 L1074.69,181.79 L1074.79,181.98 L1074.9,182.21 L1075.04,182.46 L1075.19,182.75 L1075.35,183.06 L1075.54,183.4 L1075.74,183.76 L1075.97,184.16 L1076.2,184.57 L1076.46,185.01 L1076.73,185.47 L1077.02,185.95 L1077.33,186.46 L1077.66,186.98 L1078,187.53 L1078.36,188.09 L1078.74,188.67 L1079.13,189.27 L1079.55,189.88 L1079.97,190.51 L1080.42,191.15 L1080.88,191.81 L1081.36,192.48 L1081.85,193.17 L1082.36,193.86 L1082.89,194.57 L1083.43,195.29 L1083.99,196.02 L1084.57,196.75 L1085.15,197.5 L1085.76,198.25 L1086.38,199.01 L1087.01,199.77 L1087.66,200.55 L1088.32,201.32 L1089,202.1 L1089.68,202.88 L1090.39,203.67 L1091.1,204.46 L1091.83,205.25 L1092.56,206.04 L1093.31,206.83 L1094.08,207.62 L1094.85,208.4 L1095.63,209.19 L1096.42,209.97 L1097.23,210.75 L1098.04,211.53 L1098.86,212.3 L1099.69,213.07 L1100.53,213.83 L1101.37,214.58 L1102.22,215.33 L1103.08,216.07 L1103.94,216.8 L1104.81,217.53 L1105.69,218.24 L1106.57,218.94 L1107.45,219.64 L1108.33,220.32 L1109.22,220.99 L1110.11,221.66 L1111.01,222.3 L1111.9,222.94 L1112.8,223.56 L1113.69,224.17 L1114.59,224.77 L1115.48,225.35 L1116.37,225.91 L1117.26,226.46 L1118.15,227 L1119.04,227.52 L1119.92,228.02 L1120.79,228.51 L1121.67,228.98 L1122.53,229.43 L1123.39,229.87 L1124.24,230.28 L1125.09,230.68 L1125.93,231.06 L1126.76,231.43 L1127.58,231.77 L1128.39,232.1 L1129.19,232.4 L1129.98,232.69 L1130.76,232.96 L1131.53,233.2 L1132.29,233.43 L1133.03,233.64 L1133.76,233.83 L1134.48,234 L1135.18,234.15 L1135.87,234.28 L1136.54,234.39 L1137.19,234.47 L1137.83,234.54 L1138.46,234.59 L1139.06,234.62 L1139.65,234.63 L1140.22,234.62 L1140.77,234.59 L1141.31,234.54 L1141.82,234.47 L1142.32,234.38 L1142.79,234.28 L1143.24,234.15 L1143.68,234 L1144.09,233.84 L1144.48,233.66 L1144.85,233.45 L1145.19,233.23 L1145.52,233 L1145.82,232.74 L1146.1,232.47 L1146.35,232.18 L1146.59,231.87 L1146.79,231.55 L1146.98,231.21 L1147.14,230.86 L1147.28,230.49 L1147.39,230.1 L1147.48,229.7 L1147.54,229.29 L1147.58,228.86 L1147.59,228.41 L1147.58,227.96 L1147.54,227.49 L1147.48,227 L1147.4,226.51 L1147.29,226 L1147.15,225.49 L1146.99,224.96 L1146.8,224.42 L1146.59,223.87 L1146.36,223.31 L1146.1,222.74 L1145.82,222.16 L1145.51,221.57 L1145.18,220.98 L1144.82,220.38 L1144.44,219.77 L1144.04,219.15 L1143.61,218.53 L1143.16,217.91 L1142.68,217.27 L1142.19,216.64 L1141.67,216 L1141.13,215.35 L1140.57,214.7 L1139.99,214.05 L1139.38,213.4 L1138.76,212.74 L1138.11,212.08 L1137.45,211.43 L1136.76,210.77 L1136.06,210.11 L1135.34,209.45 L1134.6,208.79 L1133.84,208.13 L1133.07,207.48 L1132.28,206.82 L1131.47,206.17 L1130.65,205.52 L1129.81,204.88 L1128.96,204.24 L1128.1,203.6 L1127.22,202.97 L1126.33,202.34 L1125.42,201.72 L1124.51,201.1 L1123.58,200.49 L1122.65,199.88 L1121.7,199.28 L1120.75,198.69 L1119.78,198.11 L1118.81,197.53 L1117.84,196.96 L1116.85,196.4 L1115.86,195.85 L1114.87,195.3 L1113.87,194.77 L1112.87,194.24 L1111.87,193.72 L1110.86,193.22 L1109.86,192.72 L1108.85,192.23 L1107.84,191.75 L1106.83,191.29 L1105.83,190.83 L1104.83,190.38 L1103.83,189.95 L1102.83,189.52 L1101.84,189.11 L1100.86,188.71 L1099.88,188.32 L1098.91,187.94 L1097.95,187.57 L1096.99,187.22 L1096.05,186.87 L1095.11,186.54 L1094.18,186.22 L1093.27,185.91 L1092.37,185.61 L1091.48,185.32 L1090.61,185.04 L1089.75,184.78 L1088.9,184.53 L1088.07,184.29 L1087.26,184.05 L1086.47,183.83 L1085.69,183.63 L1084.93,183.43 L1084.19,183.24 L1083.48,183.06 L1082.78,182.9 L1082.11,182.74 L1081.46,182.6 L1080.83,182.46 L1080.22,182.33 L1079.64,182.21 L1079.09,182.11 L1078.56,182.01 L1078.06,181.92 L1077.59,181.83 L1077.15,181.76 L1076.73,181.69 L1076.35,181.64 L1076,181.58 L1075.68,181.54 L1075.4,181.5 L1075.15,181.47 L1074.93,181.45 L1074.76,181.43 L1074.62,181.41 L1074.54,181.4 L1074.5,181.4 L1074.54,181.4 L1074.62,181.41 L1074.76,181.42 L1074.93,181.43 L1075.15,181.44 L1075.4,181.46 L1075.69,181.47 L1076.01,181.48 L1076.36,181.49 L1076.75,181.5 L1077.17,181.5 L1077.62,181.51 L1078.1,181.51 L1078.61,181.51 L1079.14,181.5 L1079.71,181.49 L1080.3,181.48 L1080.92,181.46 L1081.56,181.43 L1082.22,181.4Z" fill="none" stroke="#bf0099" stroke-width="1.4"/>
<circle cx="1085.24" cy="181.19" r="2.7" fill="url(#sphM)"/>
<circle cx="1094.1" cy="180.17" r="2.7" fill="url(#sphM)"/>
<circle cx="1103.75" cy="178.27" r="2.7" fill="url(#sphM)"/>
<circle cx="1113.65" cy="175.48" r="2.7" fill="url(#sphM)"/>
<circle cx="1123.79" cy="171.73" r="2.7" fill="url(#sphM)"/>
<circle cx="1138.23" cy="165.98" r="2.7" fill="url(#sphM)"/>
<circle cx="1145.8" cy="160.82" r="2.7" fill="url(#sphM)"/>
<circle cx="1150.12" cy="155.95" r="2.7" fill="url(#sphM)"/>
<circle cx="1155.31" cy="150.22" r="2.7" fill="url(#sphM)"/>
<circle cx="1155.38" cy="146.06" r="2.7" fill="url(#sphM)"/>
<circle cx="1153.86" cy="142.52" r="2.7" fill="url(#sphM)"/>
<circle cx="1151.41" cy="139.47" r="2.7" fill="url(#sphM)"/>
<circle cx="1140.96" cy="141.31" r="2.7" fill="url(#sphM)"/>
<circle cx="1137.35" cy="139.65" r="2.7" fill="url(#sphM)"/>
<circle cx="1127.72" cy="142.59" r="2.7" fill="url(#sphM)"/>
<circle cx="1117.72" cy="146.9" r="2.7" fill="url(#sphM)"/>
<circle cx="1106.46" cy="153.52" r="2.7" fill="url(#sphM)"/>
<circle cx="1097.6" cy="159.4" r="2.7" fill="url(#sphM)"/>
<circle cx="1088.95" cy="166.39" r="2.7" fill="url(#sphM)"/>
<circle cx="1081.7" cy="173.23" r="2.7" fill="url(#sphM)"/>
<circle cx="1077.69" cy="177.44" r="2.7" fill="url(#sphM)"/>
<circle cx="1074.97" cy="180.76" r="2.7" fill="url(#sphM)"/>
<circle cx="1074.95" cy="180.74" r="2.7" fill="url(#sphM)"/>
<circle cx="1076.81" cy="177.62" r="2.7" fill="url(#sphM)"/>
<circle cx="1080.22" cy="171.04" r="2.7" fill="url(#sphM)"/>
<circle cx="1083.79" cy="162.68" r="2.7" fill="url(#sphM)"/>
<circle cx="1087.45" cy="152.19" r="2.7" fill="url(#sphM)"/>
<circle cx="1089.44" cy="143.29" r="2.7" fill="url(#sphM)"/>
<circle cx="1092.26" cy="129.54" r="2.7" fill="url(#sphM)"/>
<circle cx="1092.91" cy="118.86" r="2.7" fill="url(#sphM)"/>
<circle cx="1091.99" cy="110.74" r="2.7" fill="url(#sphM)"/>
<circle cx="1090.74" cy="100.86" r="2.7" fill="url(#sphM)"/>
<circle cx="1087.19" cy="100.35" r="2.7" fill="url(#sphM)"/>
<circle cx="1084.72" cy="90.32" r="2.7" fill="url(#sphM)"/>
<circle cx="1080.26" cy="96.87" r="2.7" fill="url(#sphM)"/>
<circle cx="1076.55" cy="97.67" r="2.7" fill="url(#sphM)"/>
<circle cx="1072.98" cy="102.38" r="2.7" fill="url(#sphM)"/>
<circle cx="1069.81" cy="106.9" r="2.7" fill="url(#sphM)"/>
<circle cx="1067.75" cy="118.22" r="2.7" fill="url(#sphM)"/>
<circle cx="1066.4" cy="127.87" r="2.7" fill="url(#sphM)"/>
<circle cx="1065.87" cy="137.42" r="2.7" fill="url(#sphM)"/>
<circle cx="1066.93" cy="150.09" r="2.7" fill="url(#sphM)"/>
<circle cx="1069.06" cy="162.56" r="2.7" fill="url(#sphM)"/>
<circle cx="1070.97" cy="170.91" r="2.7" fill="url(#sphM)"/>
<circle cx="1072.83" cy="177.07" r="2.7" fill="url(#sphM)"/>
<circle cx="1074.18" cy="180.67" r="2.7" fill="url(#sphM)"/>
<circle cx="1073.96" cy="180.3" r="2.7" fill="url(#sphM)"/>
<circle cx="1072.03" cy="176.87" r="2.7" fill="url(#sphM)"/>
<circle cx="1068.75" cy="171.87" r="2.7" fill="url(#sphM)"/>
<circle cx="1063.63" cy="165.03" r="2.7" fill="url(#sphM)"/>
<circle cx="1056.51" cy="156.73" r="2.7" fill="url(#sphM)"/>
<circle cx="1048.68" cy="149.05" r="2.7" fill="url(#sphM)"/>
<circle cx="1038.79" cy="140.47" r="2.7" fill="url(#sphM)"/>
<circle cx="1031.37" cy="136.11" r="2.7" fill="url(#sphM)"/>
<circle cx="1024.38" cy="133.17" r="2.7" fill="url(#sphM)"/>
<circle cx="1012.07" cy="126.36" r="2.7" fill="url(#sphM)"/>
<circle cx="1009" cy="128.54" r="2.7" fill="url(#sphM)"/>
<circle cx="1004.48" cy="129.78" r="2.7" fill="url(#sphM)"/>
<circle cx="1004.98" cy="134.68" r="2.7" fill="url(#sphM)"/>
<circle cx="1001.55" cy="136.87" r="2.7" fill="url(#sphM)"/>
<circle cx="1003.5" cy="142.2" r="2.7" fill="url(#sphM)"/>
<circle cx="1008.35" cy="148.56" r="2.7" fill="url(#sphM)"/>
<circle cx="1014.6" cy="154.86" r="2.7" fill="url(#sphM)"/>
<circle cx="1028.05" cy="163.2" r="2.7" fill="url(#sphM)"/>
<circle cx="1032.95" cy="167.17" r="2.7" fill="url(#sphM)"/>
<circle cx="1045.4" cy="172.84" r="2.7" fill="url(#sphM)"/>
<circle cx="1054.42" cy="176.43" r="2.7" fill="url(#sphM)"/>
<circle cx="1063.37" cy="179.16" r="2.7" fill="url(#sphM)"/>
<circle cx="1069.46" cy="180.61" r="2.7" fill="url(#sphM)"/>
<circle cx="1073.7" cy="181.31" r="2.7" fill="url(#sphM)"/>
<circle cx="1073.7" cy="181.35" r="2.7" fill="url(#sphM)"/>
<circle cx="1069.68" cy="181.28" r="2.7" fill="url(#sphM)"/>
<circle cx="1064.33" cy="181.6" r="2.7" fill="url(#sphM)"/>
<circle cx="1054.78" cy="182.64" r="2.7" fill="url(#sphM)"/>
<circle cx="1045.82" cy="184.46" r="2.7" fill="url(#sphM)"/>
<circle cx="1034.04" cy="187.52" r="2.7" fill="url(#sphM)"/>
<circle cx="1024.7" cy="191.17" r="2.7" fill="url(#sphM)"/>
<circle cx="1011.82" cy="196.56" r="2.7" fill="url(#sphM)"/>
<circle cx="1003.66" cy="201.85" r="2.7" fill="url(#sphM)"/>
<circle cx="1000.2" cy="206.4" r="2.7" fill="url(#sphM)"/>
<circle cx="992.49" cy="213.04" r="2.7" fill="url(#sphM)"/>
<circle cx="997.15" cy="215.19" r="2.7" fill="url(#sphM)"/>
<circle cx="996.03" cy="219.84" r="2.7" fill="url(#sphM)"/>
<circle cx="996.79" cy="223.77" r="2.7" fill="url(#sphM)"/>
<circle cx="1008.42" cy="221.26" r="2.7" fill="url(#sphM)"/>
<circle cx="1011.73" cy="223.11" r="2.7" fill="url(#sphM)"/>
<circle cx="1021.69" cy="219.91" r="2.7" fill="url(#sphM)"/>
<circle cx="1034.7" cy="213.17" r="2.7" fill="url(#sphM)"/>
<circle cx="1042.07" cy="209.69" r="2.7" fill="url(#sphM)"/>
<circle cx="1052.37" cy="202.47" r="2.7" fill="url(#sphM)"/>
<circle cx="1060.28" cy="196.17" r="2.7" fill="url(#sphM)"/>
<circle cx="1066.76" cy="190.18" r="2.7" fill="url(#sphM)"/>
<circle cx="1070.97" cy="185.77" r="2.7" fill="url(#sphM)"/>
<circle cx="1073.43" cy="182.85" r="2.7" fill="url(#sphM)"/>
<circle cx="1073.71" cy="182.57" r="2.7" fill="url(#sphM)"/>
<circle cx="1072.44" cy="184.77" r="2.7" fill="url(#sphM)"/>
<circle cx="1068.76" cy="191.8" r="2.7" fill="url(#sphM)"/>
<circle cx="1065.59" cy="199.36" r="2.7" fill="url(#sphM)"/>
<circle cx="1062.77" cy="207.87" r="2.7" fill="url(#sphM)"/>
<circle cx="1060.29" cy="217.65" r="2.7" fill="url(#sphM)"/>
<circle cx="1057.64" cy="230.64" r="2.7" fill="url(#sphM)"/>
<circle cx="1056.56" cy="242.37" r="2.7" fill="url(#sphM)"/>
<circle cx="1056.45" cy="254.32" r="2.7" fill="url(#sphM)"/>
<circle cx="1057.99" cy="263.3" r="2.7" fill="url(#sphM)"/>
<circle cx="1060.84" cy="268.61" r="2.7" fill="url(#sphM)"/>
<circle cx="1065.16" cy="264.68" r="2.7" fill="url(#sphM)"/>
<circle cx="1068.76" cy="265.66" r="2.7" fill="url(#sphM)"/>
<circle cx="1072.38" cy="268.03" r="2.7" fill="url(#sphM)"/>
<circle cx="1076.04" cy="261.72" r="2.7" fill="url(#sphM)"/>
<circle cx="1079.11" cy="254.6" r="2.7" fill="url(#sphM)"/>
<circle cx="1081.18" cy="243.91" r="2.7" fill="url(#sphM)"/>
<circle cx="1082.54" cy="234.55" r="2.7" fill="url(#sphM)"/>
<circle cx="1082.4" cy="221.65" r="2.7" fill="url(#sphM)"/>
<circle cx="1082.01" cy="212.44" r="2.7" fill="url(#sphM)"/>
<circle cx="1080.25" cy="201.33" r="2.7" fill="url(#sphM)"/>
<circle cx="1078.65" cy="193.72" r="2.7" fill="url(#sphM)"/>
<circle cx="1076" cy="185.28" r="2.7" fill="url(#sphM)"/>
<circle cx="1075.11" cy="182.8" r="2.7" fill="url(#sphM)"/>
<circle cx="1074.85" cy="182.12" r="2.7" fill="url(#sphM)"/>
<circle cx="1076.55" cy="185.15" r="2.7" fill="url(#sphM)"/>
<circle cx="1080.08" cy="190.65" r="2.7" fill="url(#sphM)"/>
<circle cx="1085.14" cy="197.42" r="2.7" fill="url(#sphM)"/>
<circle cx="1090.9" cy="203.88" r="2.7" fill="url(#sphM)"/>
<circle cx="1098.53" cy="211.5" r="2.7" fill="url(#sphM)"/>
<circle cx="1110.78" cy="222.99" r="2.7" fill="url(#sphM)"/>
<circle cx="1115.84" cy="224.81" r="2.7" fill="url(#sphM)"/>
<circle cx="1125.04" cy="230.04" r="2.7" fill="url(#sphM)"/>
<circle cx="1133.38" cy="233.31" r="2.7" fill="url(#sphM)"/>
<circle cx="1140.8" cy="234.9" r="2.7" fill="url(#sphM)"/>
<circle cx="1142.54" cy="231.56" r="2.7" fill="url(#sphM)"/>
<circle cx="1144.68" cy="228.56" r="2.7" fill="url(#sphM)"/>
<circle cx="1148.6" cy="226.63" r="2.7" fill="url(#sphM)"/>
<circle cx="1141.16" cy="218.2" r="2.7" fill="url(#sphM)"/>
<circle cx="1139.11" cy="213.47" r="2.7" fill="url(#sphM)"/>
<circle cx="1134.18" cy="207.85" r="2.7" fill="url(#sphM)"/>
<circle cx="1125.86" cy="201.53" r="2.7" fill="url(#sphM)"/>
<circle cx="1113.96" cy="194.91" r="2.7" fill="url(#sphM)"/>
<circle cx="1104.81" cy="190.32" r="2.7" fill="url(#sphM)"/>
<circle cx="1094.95" cy="186.46" r="2.7" fill="url(#sphM)"/>
<circle cx="1085.61" cy="183.64" r="2.7" fill="url(#sphM)"/>
<circle cx="1079.82" cy="182.23" r="2.7" fill="url(#sphM)"/>
<circle cx="1075.3" cy="181.49" r="2.7" fill="url(#sphM)"/>
<circle cx="1075.77" cy="181.49" r="2.7" fill="url(#sphM)"/>
<circle cx="1078.75" cy="181.5" r="2.7" fill="url(#sphM)"/>
<circle cx="1169.05" cy="180.57" r="2.45" fill="url(#sphB2)"/>
<circle cx="1168.84" cy="177.61" r="2.45" fill="url(#sphB2)"/>
<circle cx="1167.43" cy="174.74" r="2.45" fill="url(#sphB2)"/>
<circle cx="1167.81" cy="171.76" r="2.45" fill="url(#sphB2)"/>
<circle cx="1166.67" cy="168.94" r="2.45" fill="url(#sphB2)"/>
<circle cx="1168.07" cy="165.74" r="2.45" fill="url(#sphB2)"/>
<circle cx="1167.18" cy="162.88" r="2.45" fill="url(#sphB2)"/>
<circle cx="1167.13" cy="159.85" r="2.45" fill="url(#sphB2)"/>
<circle cx="1166.14" cy="157.02" r="2.45" fill="url(#sphB2)"/>
<circle cx="1164.96" cy="154.26" r="2.45" fill="url(#sphB2)"/>
<circle cx="1164.15" cy="151.4" r="2.45" fill="url(#sphB2)"/>
<circle cx="1162.64" cy="148.8" r="2.45" fill="url(#sphB2)"/>
<circle cx="1160.34" cy="146.54" r="2.45" fill="url(#sphB2)"/>
<circle cx="1160.22" cy="143.41" r="2.45" fill="url(#sphB2)"/>
<circle cx="1157.48" cy="141.47" r="2.45" fill="url(#sphB2)"/>
<circle cx="1156.35" cy="138.79" r="2.45" fill="url(#sphB2)"/>
<circle cx="1156.26" cy="135.52" r="2.45" fill="url(#sphB2)"/>
<circle cx="1153.02" cy="134.03" r="2.45" fill="url(#sphB2)"/>
<circle cx="1151.48" cy="131.6" r="2.45" fill="url(#sphB2)"/>
<circle cx="1149.78" cy="129.27" r="2.45" fill="url(#sphB2)"/>
<circle cx="1149.65" cy="125.79" r="2.45" fill="url(#sphB2)"/>
<circle cx="1146.37" cy="124.64" r="2.45" fill="url(#sphB2)"/>
<circle cx="1144.19" cy="122.72" r="2.45" fill="url(#sphB2)"/>
<circle cx="1143.86" cy="119.17" r="2.45" fill="url(#sphB2)"/>
<circle cx="1140.5" cy="118.33" r="2.45" fill="url(#sphB2)"/>
<circle cx="1139.81" cy="114.94" r="2.45" fill="url(#sphB2)"/>
<circle cx="1137.4" cy="113.24" r="2.45" fill="url(#sphB2)"/>
<circle cx="1135.52" cy="110.95" r="2.45" fill="url(#sphB2)"/>
<circle cx="1133.5" cy="108.81" r="2.45" fill="url(#sphB2)"/>
<circle cx="1130.63" cy="107.72" r="2.45" fill="url(#sphB2)"/>
<circle cx="1128.64" cy="105.49" r="2.45" fill="url(#sphB2)"/>
<circle cx="1125.16" cy="105.44" r="2.45" fill="url(#sphB2)"/>
<circle cx="1123.77" cy="102.25" r="2.45" fill="url(#sphB2)"/>
<circle cx="1120.93" cy="101.3" r="2.45" fill="url(#sphB2)"/>
<circle cx="1118.65" cy="99.4" r="2.45" fill="url(#sphB2)"/>
<circle cx="1115.34" cy="99.48" r="2.45" fill="url(#sphB2)"/>
<circle cx="1113.44" cy="96.75" r="2.45" fill="url(#sphB2)"/>
<circle cx="1110.93" cy="95.16" r="2.45" fill="url(#sphB2)"/>
<circle cx="1107.36" cy="96.23" r="2.45" fill="url(#sphB2)"/>
<circle cx="1104.87" cy="94.67" r="2.45" fill="url(#sphB2)"/>
<circle cx="1102.3" cy="93.24" r="2.45" fill="url(#sphB2)"/>
<circle cx="1099.68" cy="91.84" r="2.45" fill="url(#sphB2)"/>
<circle cx="1096.46" cy="92.65" r="2.45" fill="url(#sphB2)"/>
<circle cx="1093.61" cy="92.25" r="2.45" fill="url(#sphB2)"/>
<circle cx="1090.82" cy="91.59" r="2.45" fill="url(#sphB2)"/>
<circle cx="1088.12" cy="90.24" r="2.45" fill="url(#sphB2)"/>
<circle cx="1085.29" cy="89.55" r="2.45" fill="url(#sphB2)"/>
<circle cx="1082.32" cy="90.21" r="2.45" fill="url(#sphB2)"/>
<circle cx="1079.45" cy="90.08" r="2.45" fill="url(#sphB2)"/>
<circle cx="1076.58" cy="89.86" r="2.45" fill="url(#sphB2)"/>
<circle cx="1073.7" cy="89.91" r="2.45" fill="url(#sphB2)"/>
<circle cx="1070.82" cy="89.72" r="2.45" fill="url(#sphB2)"/>
<circle cx="1067.99" cy="90.63" r="2.45" fill="url(#sphB2)"/>
<circle cx="1065.02" cy="89.67" r="2.45" fill="url(#sphB2)"/>
<circle cx="1061.96" cy="88.64" r="2.45" fill="url(#sphB2)"/>
<circle cx="1059.26" cy="90.35" r="2.45" fill="url(#sphB2)"/>
<circle cx="1056.21" cy="89.84" r="2.45" fill="url(#sphB2)"/>
<circle cx="1053.64" cy="91.77" r="2.45" fill="url(#sphB2)"/>
<circle cx="1050.44" cy="90.96" r="2.45" fill="url(#sphB2)"/>
<circle cx="1047.51" cy="91.43" r="2.45" fill="url(#sphB2)"/>
<circle cx="1044.71" cy="92.37" r="2.45" fill="url(#sphB2)"/>
<circle cx="1042.02" cy="93.6" r="2.45" fill="url(#sphB2)"/>
<circle cx="1039.27" cy="94.63" r="2.45" fill="url(#sphB2)"/>
<circle cx="1036.35" cy="95.31" r="2.45" fill="url(#sphB2)"/>
<circle cx="1033.35" cy="95.89" r="2.45" fill="url(#sphB2)"/>
<circle cx="1031.56" cy="98.92" r="2.45" fill="url(#sphB2)"/>
<circle cx="1029.06" cy="100.42" r="2.45" fill="url(#sphB2)"/>
<circle cx="1025.67" cy="100.45" r="2.45" fill="url(#sphB2)"/>
<circle cx="1022.93" cy="101.69" r="2.45" fill="url(#sphB2)"/>
<circle cx="1021.08" cy="104.26" r="2.45" fill="url(#sphB2)"/>
<circle cx="1018.85" cy="106.19" r="2.45" fill="url(#sphB2)"/>
<circle cx="1016.13" cy="107.49" r="2.45" fill="url(#sphB2)"/>
<circle cx="1014.8" cy="110.5" r="2.45" fill="url(#sphB2)"/>
<circle cx="1012.53" cy="112.33" r="2.45" fill="url(#sphB2)"/>
<circle cx="1010.58" cy="114.51" r="2.45" fill="url(#sphB2)"/>
<circle cx="1007.86" cy="115.92" r="2.45" fill="url(#sphB2)"/>
<circle cx="1006.42" cy="118.58" r="2.45" fill="url(#sphB2)"/>
<circle cx="1004.7" cy="120.93" r="2.45" fill="url(#sphB2)"/>
<circle cx="1001.95" cy="122.44" r="2.45" fill="url(#sphB2)"/>
<circle cx="999.62" cy="124.35" r="2.45" fill="url(#sphB2)"/>
<circle cx="999.27" cy="127.74" r="2.45" fill="url(#sphB2)"/>
<circle cx="996.73" cy="129.54" r="2.45" fill="url(#sphB2)"/>
<circle cx="995.78" cy="132.4" r="2.45" fill="url(#sphB2)"/>
<circle cx="993.26" cy="134.31" r="2.45" fill="url(#sphB2)"/>
<circle cx="992.41" cy="137.2" r="2.45" fill="url(#sphB2)"/>
<circle cx="991.76" cy="140.15" r="2.45" fill="url(#sphB2)"/>
<circle cx="990.59" cy="142.81" r="2.45" fill="url(#sphB2)"/>
<circle cx="989.86" cy="145.64" r="2.45" fill="url(#sphB2)"/>
<circle cx="987.64" cy="147.89" r="2.45" fill="url(#sphB2)"/>
<circle cx="986.86" cy="150.71" r="2.45" fill="url(#sphB2)"/>
<circle cx="986.47" cy="153.64" r="2.45" fill="url(#sphB2)"/>
<circle cx="985.2" cy="156.3" r="2.45" fill="url(#sphB2)"/>
<circle cx="984.59" cy="159.15" r="2.45" fill="url(#sphB2)"/>
<circle cx="982.86" cy="161.75" r="2.45" fill="url(#sphB2)"/>
<circle cx="983.99" cy="164.95" r="2.45" fill="url(#sphB2)"/>
<circle cx="981.45" cy="167.49" r="2.45" fill="url(#sphB2)"/>
<circle cx="982.5" cy="170.59" r="2.45" fill="url(#sphB2)"/>
<circle cx="982.04" cy="173.47" r="2.45" fill="url(#sphB2)"/>
<circle cx="982.33" cy="176.41" r="2.45" fill="url(#sphB2)"/>
<circle cx="981.42" cy="179.29" r="2.45" fill="url(#sphB2)"/>
<circle cx="981.58" cy="182.21" r="2.45" fill="url(#sphB2)"/>
<circle cx="982.48" cy="185.1" r="2.45" fill="url(#sphB2)"/>
<circle cx="982.97" cy="187.96" r="2.45" fill="url(#sphB2)"/>
<circle cx="982.72" cy="190.88" r="2.45" fill="url(#sphB2)"/>
<circle cx="982.8" cy="193.8" r="2.45" fill="url(#sphB2)"/>
<circle cx="984.47" cy="196.47" r="2.45" fill="url(#sphB2)"/>
<circle cx="984.17" cy="199.45" r="2.45" fill="url(#sphB2)"/>
<circle cx="984.21" cy="202.41" r="2.45" fill="url(#sphB2)"/>
<circle cx="986.13" cy="204.91" r="2.45" fill="url(#sphB2)"/>
<circle cx="987.45" cy="207.52" r="2.45" fill="url(#sphB2)"/>
<circle cx="988.21" cy="210.27" r="2.45" fill="url(#sphB2)"/>
<circle cx="987.88" cy="213.44" r="2.45" fill="url(#sphB2)"/>
<circle cx="988.91" cy="216.15" r="2.45" fill="url(#sphB2)"/>
<circle cx="989.24" cy="219.18" r="2.45" fill="url(#sphB2)"/>
<circle cx="990.57" cy="221.79" r="2.45" fill="url(#sphB2)"/>
<circle cx="993.14" cy="223.75" r="2.45" fill="url(#sphB2)"/>
<circle cx="994.49" cy="226.3" r="2.45" fill="url(#sphB2)"/>
<circle cx="995.65" cy="228.97" r="2.45" fill="url(#sphB2)"/>
<circle cx="997.22" cy="231.4" r="2.45" fill="url(#sphB2)"/>
<circle cx="997.61" cy="234.64" r="2.45" fill="url(#sphB2)"/>
<circle cx="998.91" cy="237.33" r="2.45" fill="url(#sphB2)"/>
<circle cx="1000.55" cy="239.8" r="2.45" fill="url(#sphB2)"/>
<circle cx="1003.65" cy="241.06" r="2.45" fill="url(#sphB2)"/>
<circle cx="1004.35" cy="244.34" r="2.45" fill="url(#sphB2)"/>
<circle cx="1007.38" cy="245.54" r="2.45" fill="url(#sphB2)"/>
<circle cx="1009.23" cy="247.82" r="2.45" fill="url(#sphB2)"/>
<circle cx="1010.82" cy="250.41" r="2.45" fill="url(#sphB2)"/>
<circle cx="1014.14" cy="251.09" r="2.45" fill="url(#sphB2)"/>
<circle cx="1016.37" cy="252.93" r="2.45" fill="url(#sphB2)"/>
<circle cx="1017.5" cy="256.22" r="2.45" fill="url(#sphB2)"/>
<circle cx="1020.73" cy="256.79" r="2.45" fill="url(#sphB2)"/>
<circle cx="1023.05" cy="258.54" r="2.45" fill="url(#sphB2)"/>
<circle cx="1025.21" cy="260.59" r="2.45" fill="url(#sphB2)"/>
<circle cx="1027.61" cy="262.29" r="2.45" fill="url(#sphB2)"/>
<circle cx="1031" cy="262.19" r="2.45" fill="url(#sphB2)"/>
<circle cx="1033.18" cy="264.28" r="2.45" fill="url(#sphB2)"/>
<circle cx="1035.68" cy="265.8" r="2.45" fill="url(#sphB2)"/>
<circle cx="1038.28" cy="267.14" r="2.45" fill="url(#sphB2)"/>
<circle cx="1041.23" cy="267.62" r="2.45" fill="url(#sphB2)"/>
<circle cx="1043.61" cy="269.61" r="2.45" fill="url(#sphB2)"/>
<circle cx="1046.08" cy="271.54" r="2.45" fill="url(#sphB2)"/>
<circle cx="1049.3" cy="271.06" r="2.45" fill="url(#sphB2)"/>
<circle cx="1052.01" cy="272.28" r="2.45" fill="url(#sphB2)"/>
<circle cx="1055.09" cy="271.95" r="2.45" fill="url(#sphB2)"/>
<circle cx="1057.86" cy="272.98" r="2.45" fill="url(#sphB2)"/>
<circle cx="1060.58" cy="274.53" r="2.45" fill="url(#sphB2)"/>
<circle cx="1063.68" cy="273.54" r="2.45" fill="url(#sphB2)"/>
<circle cx="1066.4" cy="275.86" r="2.45" fill="url(#sphB2)"/>
<circle cx="1069.37" cy="276.12" r="2.45" fill="url(#sphB2)"/>
<circle cx="1072.4" cy="274.1" r="2.45" fill="url(#sphB2)"/>
<circle cx="1075.33" cy="276.26" r="2.45" fill="url(#sphB2)"/>
<circle cx="1078.24" cy="274.63" r="2.45" fill="url(#sphB2)"/>
<circle cx="1081.24" cy="275.38" r="2.45" fill="url(#sphB2)"/>
<circle cx="1084.17" cy="274.95" r="2.45" fill="url(#sphB2)"/>
<circle cx="1086.92" cy="273.26" r="2.45" fill="url(#sphB2)"/>
<circle cx="1089.93" cy="273.63" r="2.45" fill="url(#sphB2)"/>
<circle cx="1092.78" cy="272.87" r="2.45" fill="url(#sphB2)"/>
<circle cx="1095.69" cy="272.46" r="2.45" fill="url(#sphB2)"/>
<circle cx="1098.13" cy="270.21" r="2.45" fill="url(#sphB2)"/>
<circle cx="1101.22" cy="270.47" r="2.45" fill="url(#sphB2)"/>
<circle cx="1104.13" cy="269.95" r="2.45" fill="url(#sphB2)"/>
<circle cx="1106.58" cy="268.13" r="2.45" fill="url(#sphB2)"/>
<circle cx="1109.11" cy="266.64" r="2.45" fill="url(#sphB2)"/>
<circle cx="1111.29" cy="264.42" r="2.45" fill="url(#sphB2)"/>
<circle cx="1114.28" cy="264.05" r="2.45" fill="url(#sphB2)"/>
<circle cx="1116.67" cy="262.4" r="2.45" fill="url(#sphB2)"/>
<circle cx="1119.65" cy="261.85" r="2.45" fill="url(#sphB2)"/>
<circle cx="1122.11" cy="260.32" r="2.45" fill="url(#sphB2)"/>
<circle cx="1124.43" cy="258.58" r="2.45" fill="url(#sphB2)"/>
<circle cx="1126.3" cy="256.2" r="2.45" fill="url(#sphB2)"/>
<circle cx="1129.39" cy="255.58" r="2.45" fill="url(#sphB2)"/>
<circle cx="1131.72" cy="253.86" r="2.45" fill="url(#sphB2)"/>
<circle cx="1133.28" cy="251.21" r="2.45" fill="url(#sphB2)"/>
<circle cx="1136.75" cy="250.78" r="2.45" fill="url(#sphB2)"/>
<circle cx="1138.55" cy="248.42" r="2.45" fill="url(#sphB2)"/>
<circle cx="1139.7" cy="245.48" r="2.45" fill="url(#sphB2)"/>
<circle cx="1143.29" cy="244.88" r="2.45" fill="url(#sphB2)"/>
<circle cx="1143.75" cy="241.39" r="2.45" fill="url(#sphB2)"/>
<circle cx="1146.03" cy="239.53" r="2.45" fill="url(#sphB2)"/>
<circle cx="1148.65" cy="237.89" r="2.45" fill="url(#sphB2)"/>
<circle cx="1150.14" cy="235.35" r="2.45" fill="url(#sphB2)"/>
<circle cx="1151.71" cy="232.89" r="2.45" fill="url(#sphB2)"/>
<circle cx="1153.48" cy="230.56" r="2.45" fill="url(#sphB2)"/>
<circle cx="1154.53" cy="227.79" r="2.45" fill="url(#sphB2)"/>
<circle cx="1155.59" cy="225.06" r="2.45" fill="url(#sphB2)"/>
<circle cx="1156.57" cy="222.32" r="2.45" fill="url(#sphB2)"/>
<circle cx="1157.52" cy="219.59" r="2.45" fill="url(#sphB2)"/>
<circle cx="1160.2" cy="217.6" r="2.45" fill="url(#sphB2)"/>
<circle cx="1161.37" cy="214.92" r="2.45" fill="url(#sphB2)"/>
<circle cx="1161.85" cy="211.99" r="2.45" fill="url(#sphB2)"/>
<circle cx="1163.26" cy="209.39" r="2.45" fill="url(#sphB2)"/>
<circle cx="1163.17" cy="206.32" r="2.45" fill="url(#sphB2)"/>
<circle cx="1163.72" cy="203.48" r="2.45" fill="url(#sphB2)"/>
<circle cx="1164.74" cy="200.74" r="2.45" fill="url(#sphB2)"/>
<circle cx="1166.64" cy="198.14" r="2.45" fill="url(#sphB2)"/>
<circle cx="1165.09" cy="194.94" r="2.45" fill="url(#sphB2)"/>
<circle cx="1166.8" cy="192.24" r="2.45" fill="url(#sphB2)"/>
<circle cx="1166.56" cy="189.29" r="2.45" fill="url(#sphB2)"/>
<circle cx="1168.27" cy="186.48" r="2.45" fill="url(#sphB2)"/>
<circle cx="1167.46" cy="183.51" r="2.45" fill="url(#sphB2)"/>
<path transform="translate(1049,45.7) scale(21.1,20.4)" d="M0,0.30 C0.04,0.17 0.10,0.06 0.22,0.03 C0.28,0.015 0.34,0.012 0.42,0.012 L1,0.0 L1,0.145 L0.75,0.148 C0.745,0.42 0.745,0.66 0.775,0.79 C0.80,0.88 0.87,0.885 0.93,0.74 L0.975,0.76 C0.935,0.92 0.87,1.0 0.77,1.0 C0.665,1.0 0.625,0.90 0.62,0.70 C0.615,0.52 0.625,0.32 0.63,0.15 L0.455,0.152 C0.445,0.48 0.37,0.74 0.30,0.91 C0.265,0.99 0.19,1.01 0.155,0.965 C0.125,0.925 0.15,0.86 0.205,0.79 C0.26,0.68 0.31,0.47 0.325,0.155 L0.27,0.158 C0.17,0.17 0.09,0.24 0.035,0.33 Z" fill="#000"/>
<g transform="translate(1071.1,65.33) scale(1,1.0268)"><text x="0" y="0" font-family='"Liberation Sans", sans-serif' font-size="37.13" fill="#000" stroke="#000" stroke-width="0.5" stroke-linejoin="round">/2</text></g>
<g transform="translate(1187.13,191.22) scale(1,1.0428)"><text x="0" y="0" font-family='"Liberation Sans", sans-serif' font-size="37.65" fill="#000" stroke="#000" stroke-width="0.5" stroke-linejoin="round">0</text></g>
<path transform="translate(937.9,170.3) scale(21.4,20.7)" d="M0,0.30 C0.04,0.17 0.10,0.06 0.22,0.03 C0.28,0.015 0.34,0.012 0.42,0.012 L1,0.0 L1,0.145 L0.75,0.148 C0.745,0.42 0.745,0.66 0.775,0.79 C0.80,0.88 0.87,0.885 0.93,0.74 L0.975,0.76 C0.935,0.92 0.87,1.0 0.77,1.0 C0.665,1.0 0.625,0.90 0.62,0.70 C0.615,0.52 0.625,0.32 0.63,0.15 L0.455,0.152 C0.445,0.48 0.37,0.74 0.30,0.91 C0.265,0.99 0.19,1.01 0.155,0.965 C0.125,0.925 0.15,0.86 0.205,0.79 C0.26,0.68 0.31,0.47 0.325,0.155 L0.27,0.158 C0.17,0.17 0.09,0.24 0.035,0.33 Z" fill="#000"/>
<g transform="translate(1037.15,319.42) scale(1,1.0285)"><text x="0" y="0" font-family='"Liberation Sans", sans-serif' font-size="38.18" fill="#000" stroke="#000" stroke-width="0.5" stroke-linejoin="round">3</text></g>
<path transform="translate(1058.9,299.7) scale(21.1,20.2)" d="M0,0.30 C0.04,0.17 0.10,0.06 0.22,0.03 C0.28,0.015 0.34,0.012 0.42,0.012 L1,0.0 L1,0.145 L0.75,0.148 C0.745,0.42 0.745,0.66 0.775,0.79 C0.80,0.88 0.87,0.885 0.93,0.74 L0.975,0.76 C0.935,0.92 0.87,1.0 0.77,1.0 C0.665,1.0 0.625,0.90 0.62,0.70 C0.615,0.52 0.625,0.32 0.63,0.15 L0.455,0.152 C0.445,0.48 0.37,0.74 0.30,0.91 C0.265,0.99 0.19,1.01 0.155,0.965 C0.125,0.925 0.15,0.86 0.205,0.79 C0.26,0.68 0.31,0.47 0.325,0.155 L0.27,0.158 C0.17,0.17 0.09,0.24 0.035,0.33 Z" fill="#000"/>
<g transform="translate(1080.8,319.23) scale(1,1.0231)"><text x="0" y="0" font-family='"Liberation Sans", sans-serif' font-size="37.13" fill="#000" stroke="#000" stroke-width="0.5" stroke-linejoin="round">/2</text></g>
<g fill="none" stroke="#ffb900" stroke-width="4.3">
<path d="M569,460.6 C571.67,458.83 579.83,453.1 585,450 C590.17,446.9 595.17,444.17 600,442 C604.83,439.83 609.23,438.18 614,437 C618.77,435.82 623.77,434.98 628.6,434.9 C633.43,434.82 638.27,435.4 643,436.5 C647.73,437.6 652.33,439.67 657,441.5 C661.67,443.33 666.25,445.22 671,447.5 C675.75,449.78 683.08,453.92 685.5,455.2"/>
<path d="M570.3,493.2 C572.75,494.67 580.05,499.2 585,502 C589.95,504.8 595.17,507.92 600,510 C604.83,512.08 609.23,513.47 614,514.5 C618.77,515.53 623.77,516.28 628.6,516.2 C633.43,516.12 638.27,515.45 643,514 C647.73,512.55 652.33,509.92 657,507.5 C661.67,505.08 666.25,502.33 671,499.5 C675.75,496.67 683.08,492 685.5,490.5"/>
<path d="M570.3,627.3 C572.42,624.92 578.55,617.55 583,613 C587.45,608.45 592.33,603.92 597,600 C601.67,596.08 606.18,592.17 611,589.5 C615.82,586.83 621.07,584.58 625.9,584 C630.73,583.42 635.15,584.58 640,586 C644.85,587.42 650,589.83 655,592.5 C660,595.17 664.92,598.45 670,602 C675.08,605.55 682.92,611.83 685.5,613.8"/>
</g>
<g fill="none" stroke="#231f20" stroke-width="5">
<path d="M644.8,505.4 C645,502.83 645.93,495.07 646,490 C646.07,484.93 645.7,479.83 645.2,475 C644.7,470.17 643.5,464.33 643,461 C642.5,457.67 642.33,456 642.2,455"/>
<path d="M611,524.3 C610.75,526.92 609.58,534.72 609.5,540 C609.42,545.28 609.88,551 610.5,556 C611.12,561 612.57,566.92 613.2,570 C613.83,573.08 614.12,573.75 614.3,574.5"/>
</g>
<path d="M638,441.1 L633.2,460.2 L651.6,452 Z" fill="#231f20"/>
<path d="M619,585.9 L605.6,575.8 L622.5,568.6 Z" fill="#231f20"/>
<circle cx="613.7" cy="514.8" r="8.8" fill="#231f20" stroke="#000" stroke-width="1.6"/>
<circle cx="642.7" cy="514.3" r="8.8" fill="#231f20" stroke="#000" stroke-width="1.6"/>
</svg>
</body></html>
